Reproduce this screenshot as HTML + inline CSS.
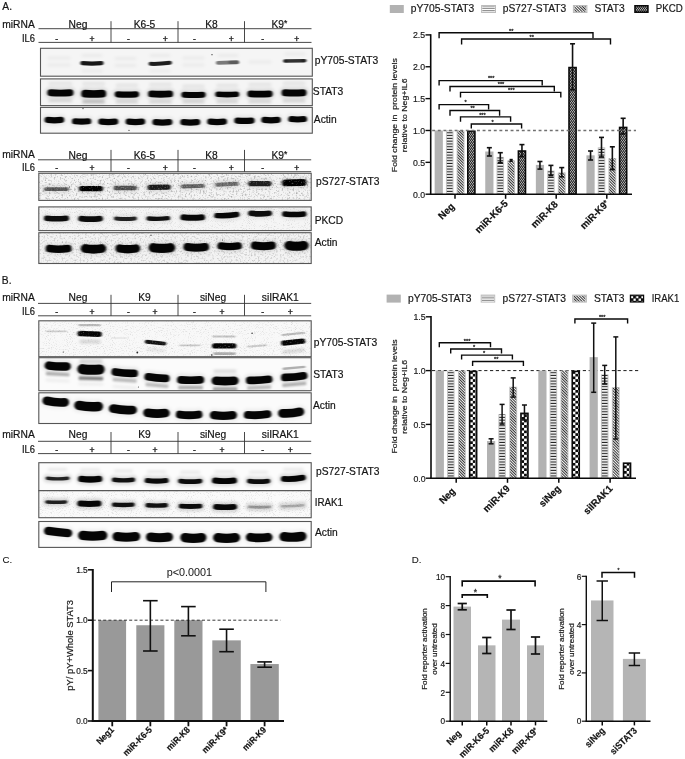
<!DOCTYPE html>
<html lang="en"><head><meta charset="utf-8"><title>Figure</title>
<style>html,body{margin:0;padding:0;background:#fff}svg{display:block}text{font-family:"Liberation Sans", sans-serif}</style></head><body>
<svg width="685" height="759" viewBox="0 0 685 759">
<defs>
<filter id="b1" filterUnits="userSpaceOnUse" x="0" y="0" width="685" height="759"><feGaussianBlur stdDeviation="0.9 0.65"/></filter>
<filter id="b3" filterUnits="userSpaceOnUse" x="0" y="0" width="685" height="759"><feGaussianBlur stdDeviation="1.2 1.0"/></filter>
<filter id="b2" filterUnits="userSpaceOnUse" x="0" y="0" width="685" height="759"><feGaussianBlur stdDeviation="1.8 1.5"/></filter>
<filter id="wn1" x="0" y="0" width="100%" height="100%"><feTurbulence type="fractalNoise" baseFrequency="0.8" numOctaves="2" seed="11"/><feColorMatrix type="matrix" values="0 0 0 0 1  0 0 0 0 1  0 0 0 0 1  1.0 0 0 0 -0.56"/></filter>
<filter id="wn2" x="0" y="0" width="100%" height="100%"><feTurbulence type="fractalNoise" baseFrequency="0.8" numOctaves="2" seed="13"/><feColorMatrix type="matrix" values="0 0 0 0 1  0 0 0 0 1  0 0 0 0 1  0.9 0 0 0 -0.5"/></filter>
<filter id="nz3" x="0" y="0" width="100%" height="100%"><feTurbulence type="fractalNoise" baseFrequency="0.95" numOctaves="2" seed="5"/><feColorMatrix type="matrix" values="0 0 0 0 0  0 0 0 0 0  0 0 0 0 0  0.4 0 0 0 -0.22"/></filter>
<filter id="nz" x="0" y="0" width="100%" height="100%"><feTurbulence type="fractalNoise" baseFrequency="0.55" numOctaves="3" seed="3"/><feColorMatrix type="matrix" values="0 0 0 0 0  0 0 0 0 0  0 0 0 0 0  0.75 0 0 0 -0.37"/></filter>
<filter id="nz2" x="0" y="0" width="100%" height="100%"><feTurbulence type="fractalNoise" baseFrequency="0.55" numOctaves="3" seed="8"/><feColorMatrix type="matrix" values="0 0 0 0 0  0 0 0 0 0  0 0 0 0 0  0.5 0 0 0 -0.24"/></filter>
<pattern id="hz" y="0.3" width="9" height="2.79" patternUnits="userSpaceOnUse"><rect width="9" height="2.79" fill="#fff"/><rect y="0.75" width="9" height="1.15" fill="#222"/></pattern>
<pattern id="dg" width="4" height="1.97" patternUnits="userSpaceOnUse" patternTransform="rotate(45)"><rect width="4" height="1.97" fill="#f4f4f4"/><rect width="4" height="0.95" fill="#2c2c2c"/></pattern>
<pattern id="xh" x="0" y="0.2" width="2" height="3" patternUnits="userSpaceOnUse"><rect width="2" height="3" fill="#121212"/><rect x="0" y="0.2" width="1" height="1.1" fill="#f4f4f4"/><rect x="1" y="1.7" width="1" height="1.1" fill="#f4f4f4"/></pattern>
<pattern id="ck" x="470.1" y="371.1" width="5.4" height="5.4" patternUnits="userSpaceOnUse"><rect width="5.4" height="5.4" fill="#0a0a0a"/><rect x="2.7" y="0" width="2.7" height="2.7" fill="#fff"/><rect x="0" y="2.7" width="2.7" height="2.7" fill="#fff"/></pattern>
<pattern id="ckl" x="630.5" y="295.6" width="5.2" height="5.2" patternUnits="userSpaceOnUse"><rect width="5.2" height="5.2" fill="#0a0a0a"/><rect x="0.4" y="0.4" width="2.3" height="2.3" fill="#fff"/><rect x="3" y="3" width="2.3" height="2.3" fill="#fff"/></pattern>
<clipPath id="c1"><rect x="40.5" y="48.3" width="271.8" height="27.900000000000006"/></clipPath>
<clipPath id="c2"><rect x="40.5" y="78.9" width="271.8" height="26.69999999999999"/></clipPath>
<clipPath id="c3"><rect x="40.5" y="107.4" width="271.8" height="25.799999999999983"/></clipPath>
<clipPath id="c4"><rect x="38.8" y="173.3" width="272.4" height="27.099999999999994"/></clipPath>
<clipPath id="c5"><rect x="38.8" y="206.9" width="272.4" height="23.69999999999999"/></clipPath>
<clipPath id="c6"><rect x="38.8" y="232.7" width="272.4" height="30.80000000000001"/></clipPath>
<clipPath id="c7"><rect x="38.8" y="320.8" width="272.4" height="35.89999999999998"/></clipPath>
<clipPath id="c8"><rect x="38.8" y="357.7" width="272.4" height="33.0"/></clipPath>
<clipPath id="c9"><rect x="38.8" y="392.8" width="272.4" height="30.69999999999999"/></clipPath>
<clipPath id="c10"><rect x="38.8" y="462.7" width="272.4" height="28.0"/></clipPath>
<clipPath id="c11"><rect x="38.8" y="490.7" width="272.4" height="27.000000000000057"/></clipPath>
<clipPath id="c12"><rect x="38.8" y="521.5" width="272.4" height="25.899999999999977"/></clipPath>
</defs>
<rect width="685" height="759" fill="#fff"/>
<text x="2.30" y="10.00" font-size="10.25" text-anchor="start" font-weight="normal" fill="#151515" stroke="#151515" stroke-width="0.2" >A.</text>
<text x="2.30" y="27.70" font-size="10.25" text-anchor="start" font-weight="normal" fill="#151515" stroke="#151515" stroke-width="0.2" >miRNA</text>
<text x="22.00" y="41.80" font-size="10.25" text-anchor="start" font-weight="normal" fill="#151515" stroke="#151515" stroke-width="0.2" textLength="13" lengthAdjust="spacingAndGlyphs">IL6</text>
<line x1="38.50" y1="28.70" x2="311.50" y2="28.70" stroke="#333" stroke-width="0.9" />
<line x1="38.50" y1="42.40" x2="311.50" y2="42.40" stroke="#333" stroke-width="0.9" />
<line x1="111.00" y1="21.20" x2="111.00" y2="42.40" stroke="#333" stroke-width="0.9" />
<line x1="178.00" y1="21.20" x2="178.00" y2="42.40" stroke="#333" stroke-width="0.9" />
<line x1="244.50" y1="21.20" x2="244.50" y2="42.40" stroke="#333" stroke-width="0.9" />
<text x="78.00" y="27.70" font-size="10.25" text-anchor="middle" font-weight="normal" fill="#151515" stroke="#151515" stroke-width="0.2" >Neg</text>
<text x="144.50" y="27.70" font-size="10.25" text-anchor="middle" font-weight="normal" fill="#151515" stroke="#151515" stroke-width="0.2" >K6-5</text>
<text x="211.40" y="27.70" font-size="10.25" text-anchor="middle" font-weight="normal" fill="#151515" stroke="#151515" stroke-width="0.2" >K8</text>
<text x="279.40" y="27.70" font-size="10.25" text-anchor="middle" font-weight="normal" fill="#151515" stroke="#151515" stroke-width="0.2" >K9<tspan font-size="8.5" dy="-1.3">*</tspan></text>
<text x="56.60" y="42.00" font-size="8.6" text-anchor="middle" font-weight="normal" fill="#151515" stroke="#151515" stroke-width="0.35" >-</text>
<text x="92.00" y="42.00" font-size="8.6" text-anchor="middle" font-weight="normal" fill="#151515" stroke="#151515" stroke-width="0.35" >+</text>
<text x="128.50" y="42.00" font-size="8.6" text-anchor="middle" font-weight="normal" fill="#151515" stroke="#151515" stroke-width="0.35" >-</text>
<text x="165.30" y="42.00" font-size="8.6" text-anchor="middle" font-weight="normal" fill="#151515" stroke="#151515" stroke-width="0.35" >+</text>
<text x="194.50" y="42.00" font-size="8.6" text-anchor="middle" font-weight="normal" fill="#151515" stroke="#151515" stroke-width="0.35" >-</text>
<text x="231.30" y="42.00" font-size="8.6" text-anchor="middle" font-weight="normal" fill="#151515" stroke="#151515" stroke-width="0.35" >+</text>
<text x="262.60" y="42.00" font-size="8.6" text-anchor="middle" font-weight="normal" fill="#151515" stroke="#151515" stroke-width="0.35" >-</text>
<text x="296.70" y="42.00" font-size="8.6" text-anchor="middle" font-weight="normal" fill="#151515" stroke="#151515" stroke-width="0.35" >+</text>
<g clip-path="url(#c1)">
<rect x="40.50" y="48.30" width="271.80" height="27.90" fill="#f5f5f5" stroke="none" stroke-width="1" />
<g filter="url(#b2)" fill="none" stroke-linecap="round"><path d="M48.9 58.00Q59.0 58.00 69.1 58.00" stroke="#050505" stroke-width="3.0" opacity="0.045"/><path d="M48.9 65.00Q59.0 65.00 69.1 65.00" stroke="#050505" stroke-width="3.0" opacity="0.045"/><path d="M82.9 55.50Q92.0 55.50 101.1 55.50" stroke="#050505" stroke-width="3.0" opacity="0.045"/><path d="M82.9 71.00Q92.0 71.00 101.1 71.00" stroke="#050505" stroke-width="3.0" opacity="0.045"/><path d="M115.9 58.50Q125.5 58.50 135.1 58.50" stroke="#050505" stroke-width="3.0" opacity="0.045"/><path d="M115.9 65.50Q125.5 65.50 135.1 65.50" stroke="#050505" stroke-width="3.0" opacity="0.045"/><path d="M150.9 55.50Q160.0 55.50 169.1 55.50" stroke="#050505" stroke-width="3.0" opacity="0.045"/><path d="M150.9 71.00Q160.0 71.00 169.1 71.00" stroke="#050505" stroke-width="3.0" opacity="0.045"/><path d="M183.9 58.00Q193.5 58.00 203.1 58.00" stroke="#050505" stroke-width="3.0" opacity="0.045"/><path d="M183.9 65.00Q193.5 65.00 203.1 65.00" stroke="#050505" stroke-width="3.0" opacity="0.045"/><path d="M218.9 55.50Q228.0 55.50 237.1 55.50" stroke="#050505" stroke-width="3.0" opacity="0.045"/><path d="M249.9 62.00Q260.0 62.00 270.1 62.00" stroke="#050505" stroke-width="3.0" opacity="0.045"/><path d="M285.9 54.00Q295.0 54.00 304.1 54.00" stroke="#050505" stroke-width="3.0" opacity="0.045"/></g>
<g filter="url(#b1)" fill="none" stroke-linecap="round"><path d="M82.4 63.10Q92.0 64.00 101.5 63.10" stroke="#050505" stroke-width="4.2" opacity="0.9"/><path d="M150.6 63.35Q160.2 64.10 169.9 63.35" stroke="#050505" stroke-width="4.0" opacity="0.88" transform="rotate(-3 160.2 63.6)"/><path d="M217.8 62.60Q227.6 62.60 237.3 62.60" stroke="#050505" stroke-width="3.8" opacity="0.5" transform="rotate(-2 227.6 62.6)"/><path d="M230.1 62.30Q233.8 62.30 237.5 62.30" stroke="#050505" stroke-width="3.4" opacity="0.25"/><path d="M284.9 60.80Q294.9 60.80 304.8 60.80" stroke="#050505" stroke-width="3.5" opacity="0.8" transform="rotate(-1 294.9 60.8)"/><path d="M285.0 61.00Q285.5 61.00 286.0 61.00" stroke="#050505" stroke-width="3.2" opacity="0.3"/><path d="M303.0 60.60Q303.8 60.60 304.5 60.60" stroke="#050505" stroke-width="3.2" opacity="0.3"/></g>
<circle cx="212" cy="54.7" r="0.6" fill="#111" opacity="0.9"/>
</g>
<rect x="40.50" y="48.30" width="271.80" height="27.90" fill="none" stroke="#555" stroke-width="1.1" />
<g clip-path="url(#c2)">
<rect x="40.50" y="78.90" width="271.80" height="26.70" fill="#f5f5f5" stroke="none" stroke-width="1" />
<g filter="url(#b2)" fill="none" stroke-linecap="round"><path d="M49.7 100.80Q60.4 100.80 71.1 100.80" stroke="#050505" stroke-width="2.6" opacity="0.16"/><path d="M49.9 83.40Q60.4 83.40 70.9 83.40" stroke="#050505" stroke-width="3.0" opacity="0.08"/><path d="M50.8 92.80Q60.4 93.40 70.0 92.80" stroke="#000" stroke-width="11.9" opacity="0.1"/><path d="M83.5 102.20Q93.7 102.20 103.9 102.20" stroke="#050505" stroke-width="2.6" opacity="0.16"/><path d="M83.7 83.80Q93.7 83.80 103.7 83.80" stroke="#050505" stroke-width="3.0" opacity="0.08"/><path d="M85.1 93.70Q93.7 94.30 102.3 93.70" stroke="#000" stroke-width="12.7" opacity="0.1"/><path d="M117.0 101.90Q126.9 101.90 136.8 101.90" stroke="#050505" stroke-width="2.6" opacity="0.16"/><path d="M117.2 85.30Q126.9 85.30 136.6 85.30" stroke="#050505" stroke-width="3.0" opacity="0.08"/><path d="M117.8 94.30Q126.9 94.90 136.0 94.30" stroke="#000" stroke-width="11.2" opacity="0.1"/><path d="M150.5 101.90Q160.6 101.90 170.7 101.90" stroke="#050505" stroke-width="2.6" opacity="0.16"/><path d="M150.7 84.50Q160.6 84.50 170.5 84.50" stroke="#050505" stroke-width="3.0" opacity="0.08"/><path d="M151.6 93.90Q160.6 94.50 169.6 93.90" stroke="#000" stroke-width="11.9" opacity="0.1"/><path d="M183.7 101.90Q193.5 101.90 203.3 101.90" stroke="#050505" stroke-width="2.6" opacity="0.16"/><path d="M183.9 86.30Q193.5 86.30 203.1 86.30" stroke="#050505" stroke-width="3.0" opacity="0.08"/><path d="M184.4 94.80Q193.5 95.40 202.6 94.80" stroke="#000" stroke-width="11.0" opacity="0.1"/><path d="M217.6 101.60Q227.2 101.60 236.9 101.60" stroke="#050505" stroke-width="2.6" opacity="0.16"/><path d="M217.8 85.60Q227.2 85.60 236.7 85.60" stroke="#050505" stroke-width="3.0" opacity="0.08"/><path d="M218.1 94.30Q227.2 94.90 236.4 94.30" stroke="#000" stroke-width="10.6" opacity="0.1"/><path d="M249.7 101.80Q260.0 101.80 270.3 101.80" stroke="#050505" stroke-width="2.6" opacity="0.16"/><path d="M249.9 84.60Q260.0 84.60 270.1 84.60" stroke="#050505" stroke-width="3.0" opacity="0.08"/><path d="M250.7 93.90Q260.0 94.50 269.3 93.90" stroke="#000" stroke-width="11.7" opacity="0.1"/><path d="M283.9 100.90Q294.0 100.90 304.2 100.90" stroke="#050505" stroke-width="2.6" opacity="0.16"/><path d="M284.1 83.30Q294.0 83.30 304.0 83.30" stroke="#050505" stroke-width="3.0" opacity="0.08"/><path d="M285.1 92.80Q294.0 93.40 303.0 92.80" stroke="#000" stroke-width="12.0" opacity="0.1"/><path d="M83.7 101.30Q93.5 101.30 103.3 101.30" stroke="#050505" stroke-width="2.6" opacity="0.18"/></g>
<g filter="url(#b1)" fill="none" stroke-linecap="round"><path d="M50.8 92.80Q60.4 93.40 70.0 92.80" stroke="#050505" stroke-width="6.9" opacity="0.98"/><path d="M85.1 93.70Q93.7 94.30 102.3 93.70" stroke="#050505" stroke-width="7.7" opacity="0.98"/><path d="M117.8 94.30Q126.9 94.90 136.0 94.30" stroke="#050505" stroke-width="6.2" opacity="0.98"/><path d="M151.6 93.90Q160.6 94.50 169.6 93.90" stroke="#050505" stroke-width="6.9" opacity="0.98"/><path d="M184.4 94.80Q193.5 95.40 202.6 94.80" stroke="#050505" stroke-width="6.0" opacity="0.98"/><path d="M218.1 94.30Q227.2 94.90 236.4 94.30" stroke="#050505" stroke-width="5.6" opacity="0.98"/><path d="M250.7 93.90Q260.0 94.50 269.3 93.90" stroke="#050505" stroke-width="6.7" opacity="0.98"/><path d="M285.1 92.80Q294.0 93.40 303.0 92.80" stroke="#050505" stroke-width="7.0" opacity="0.98"/></g>

</g>
<rect x="40.50" y="78.90" width="271.80" height="26.70" fill="none" stroke="#555" stroke-width="1.1" />
<g clip-path="url(#c3)">
<rect x="40.50" y="107.40" width="271.80" height="25.80" fill="#f6f6f6" stroke="none" stroke-width="1" />
<g filter="url(#b2)" fill="none" stroke-linecap="round"><path d="M47.7 119.95Q54.4 120.70 61.1 119.95" stroke="#000" stroke-width="11.2" opacity="0.06"/><path d="M75.1 121.25Q81.7 122.00 88.2 121.25" stroke="#000" stroke-width="11.2" opacity="0.06"/><path d="M101.4 121.65Q108.3 122.40 115.2 121.65" stroke="#000" stroke-width="11.2" opacity="0.06"/><path d="M128.7 121.65Q135.4 122.40 142.1 121.65" stroke="#000" stroke-width="11.2" opacity="0.06"/><path d="M155.5 122.15Q162.4 122.90 169.3 122.15" stroke="#000" stroke-width="11.2" opacity="0.06"/><path d="M183.4 122.15Q190.3 122.90 197.2 122.15" stroke="#000" stroke-width="11.2" opacity="0.06"/><path d="M210.3 121.65Q217.1 122.40 223.9 121.65" stroke="#000" stroke-width="11.2" opacity="0.06"/><path d="M237.4 120.55Q244.4 121.30 251.5 120.55" stroke="#000" stroke-width="11.2" opacity="0.06"/><path d="M264.4 119.95Q271.0 120.70 277.7 119.95" stroke="#000" stroke-width="11.2" opacity="0.06"/><path d="M291.2 119.05Q297.6 119.80 304.1 119.05" stroke="#000" stroke-width="11.0" opacity="0.06"/></g>
<g filter="url(#b1)" fill="none" stroke-linecap="round"><path d="M47.7 119.95Q54.4 120.70 61.1 119.95" stroke="#050505" stroke-width="6.2" opacity="0.98"/><path d="M75.1 121.25Q81.7 122.00 88.2 121.25" stroke="#050505" stroke-width="6.2" opacity="0.98"/><path d="M101.4 121.65Q108.3 122.40 115.2 121.65" stroke="#050505" stroke-width="6.2" opacity="0.98"/><path d="M128.7 121.65Q135.4 122.40 142.1 121.65" stroke="#050505" stroke-width="6.2" opacity="0.98"/><path d="M155.5 122.15Q162.4 122.90 169.3 122.15" stroke="#050505" stroke-width="6.2" opacity="0.98"/><path d="M183.4 122.15Q190.3 122.90 197.2 122.15" stroke="#050505" stroke-width="6.2" opacity="0.98"/><path d="M210.3 121.65Q217.1 122.40 223.9 121.65" stroke="#050505" stroke-width="6.2" opacity="0.98"/><path d="M237.4 120.55Q244.4 121.30 251.5 120.55" stroke="#050505" stroke-width="6.2" opacity="0.98"/><path d="M264.4 119.95Q271.0 120.70 277.7 119.95" stroke="#050505" stroke-width="6.2" opacity="0.98"/><path d="M291.2 119.05Q297.6 119.80 304.1 119.05" stroke="#050505" stroke-width="6.0" opacity="0.98"/></g>
<circle cx="83" cy="108.6" r="0.6" fill="#111" opacity="0.9"/><circle cx="129" cy="130.3" r="0.6" fill="#111" opacity="0.9"/>
</g>
<rect x="40.50" y="107.40" width="271.80" height="25.80" fill="none" stroke="#555" stroke-width="1.1" />
<text x="314.80" y="64.10" font-size="10.25" text-anchor="start" font-weight="normal" fill="#151515" stroke="#151515" stroke-width="0.2" >pY705-STAT3</text>
<text x="312.80" y="95.30" font-size="10.25" text-anchor="start" font-weight="normal" fill="#151515" stroke="#151515" stroke-width="0.2" >STAT3</text>
<text x="313.80" y="123.00" font-size="10.25" text-anchor="start" font-weight="normal" fill="#151515" stroke="#151515" stroke-width="0.2" >Actin</text>
<text x="2.30" y="157.70" font-size="10.25" text-anchor="start" font-weight="normal" fill="#151515" stroke="#151515" stroke-width="0.2" >miRNA</text>
<text x="22.00" y="170.80" font-size="10.25" text-anchor="start" font-weight="normal" fill="#151515" stroke="#151515" stroke-width="0.2" textLength="13" lengthAdjust="spacingAndGlyphs">IL6</text>
<line x1="38.00" y1="159.80" x2="311.20" y2="159.80" stroke="#333" stroke-width="0.9" />
<line x1="38.00" y1="171.70" x2="311.20" y2="171.70" stroke="#333" stroke-width="0.9" />
<line x1="111.00" y1="149.90" x2="111.00" y2="171.70" stroke="#333" stroke-width="0.9" />
<line x1="178.00" y1="149.90" x2="178.00" y2="171.70" stroke="#333" stroke-width="0.9" />
<line x1="244.50" y1="149.90" x2="244.50" y2="171.70" stroke="#333" stroke-width="0.9" />
<text x="78.00" y="158.50" font-size="10.25" text-anchor="middle" font-weight="normal" fill="#151515" stroke="#151515" stroke-width="0.2" >Neg</text>
<text x="144.50" y="158.50" font-size="10.25" text-anchor="middle" font-weight="normal" fill="#151515" stroke="#151515" stroke-width="0.2" >K6-5</text>
<text x="211.40" y="158.50" font-size="10.25" text-anchor="middle" font-weight="normal" fill="#151515" stroke="#151515" stroke-width="0.2" >K8</text>
<text x="279.40" y="158.50" font-size="10.25" text-anchor="middle" font-weight="normal" fill="#151515" stroke="#151515" stroke-width="0.2" >K9<tspan font-size="8.5" dy="-1.3">*</tspan></text>
<text x="56.60" y="171.00" font-size="8.6" text-anchor="middle" font-weight="normal" fill="#151515" stroke="#151515" stroke-width="0.35" >-</text>
<text x="92.00" y="171.00" font-size="8.6" text-anchor="middle" font-weight="normal" fill="#151515" stroke="#151515" stroke-width="0.35" >+</text>
<text x="128.50" y="171.00" font-size="8.6" text-anchor="middle" font-weight="normal" fill="#151515" stroke="#151515" stroke-width="0.35" >-</text>
<text x="165.30" y="171.00" font-size="8.6" text-anchor="middle" font-weight="normal" fill="#151515" stroke="#151515" stroke-width="0.35" >+</text>
<text x="194.50" y="171.00" font-size="8.6" text-anchor="middle" font-weight="normal" fill="#151515" stroke="#151515" stroke-width="0.35" >-</text>
<text x="231.30" y="171.00" font-size="8.6" text-anchor="middle" font-weight="normal" fill="#151515" stroke="#151515" stroke-width="0.35" >+</text>
<text x="262.60" y="171.00" font-size="8.6" text-anchor="middle" font-weight="normal" fill="#151515" stroke="#151515" stroke-width="0.35" >-</text>
<text x="296.70" y="171.00" font-size="8.6" text-anchor="middle" font-weight="normal" fill="#151515" stroke="#151515" stroke-width="0.35" >+</text>
<g clip-path="url(#c4)">
<rect x="38.80" y="173.30" width="272.40" height="27.10" fill="#f4f4f4" stroke="none" stroke-width="1" />
<rect x="38.80" y="173.30" width="272.40" height="27.10" fill="#fff" stroke="none" stroke-width="1" filter="url(#nz)"/>
<g filter="url(#b2)" fill="none" stroke-linecap="round"><path d="M46.0 189.10Q56.5 189.10 67.0 189.10" stroke="#000" stroke-width="8.9" opacity="0.09"/><path d="M81.7 188.60Q91.0 188.60 100.3 188.60" stroke="#000" stroke-width="10.4" opacity="0.09"/><path d="M115.8 188.00Q125.2 188.00 134.7 188.00" stroke="#000" stroke-width="9.4" opacity="0.09"/><path d="M150.2 187.30Q159.1 187.30 168.1 187.30" stroke="#000" stroke-width="10.3" opacity="0.09" transform="rotate(-1 159.1 187.3)"/><path d="M182.8 186.20Q192.8 186.20 202.7 186.20" stroke="#000" stroke-width="8.9" opacity="0.09" transform="rotate(-2 192.8 186.2)"/><path d="M217.2 184.30Q226.9 184.30 236.7 184.30" stroke="#000" stroke-width="8.9" opacity="0.09" transform="rotate(-3 226.9 184.3)"/><path d="M250.8 183.60Q259.8 183.60 268.8 183.60" stroke="#000" stroke-width="10.3" opacity="0.09"/><path d="M285.5 182.70Q294.3 182.70 303.1 182.70" stroke="#000" stroke-width="11.9" opacity="0.09" transform="rotate(-1 294.3 182.7)"/></g>
<g filter="url(#b1)" fill="none" stroke-linecap="round"><path d="M46.0 189.10Q56.5 189.10 67.0 189.10" stroke="#050505" stroke-width="3.9" opacity="0.58"/><path d="M81.7 188.60Q91.0 188.60 100.3 188.60" stroke="#050505" stroke-width="5.4" opacity="1"/><path d="M115.8 188.00Q125.2 188.00 134.7 188.00" stroke="#050505" stroke-width="4.4" opacity="0.63"/><path d="M150.2 187.30Q159.1 187.30 168.1 187.30" stroke="#050505" stroke-width="5.3" opacity="0.88" transform="rotate(-1 159.1 187.3)"/><path d="M182.8 186.20Q192.8 186.20 202.7 186.20" stroke="#050505" stroke-width="3.9" opacity="0.5599999999999999" transform="rotate(-2 192.8 186.2)"/><path d="M217.2 184.30Q226.9 184.30 236.7 184.30" stroke="#050505" stroke-width="3.9" opacity="0.5" transform="rotate(-3 226.9 184.3)"/><path d="M250.8 183.60Q259.8 183.60 268.8 183.60" stroke="#050505" stroke-width="5.3" opacity="0.86"/><path d="M285.5 182.70Q294.3 182.70 303.1 182.70" stroke="#050505" stroke-width="6.9" opacity="1" transform="rotate(-1 294.3 182.7)"/></g>
<rect x="38.80" y="173.30" width="272.40" height="27.10" fill="#fff" stroke="none" stroke-width="1" filter="url(#wn1)"/>
<circle cx="69.5" cy="187" r="0.5" fill="#111" opacity="0.9"/>
</g>
<rect x="38.80" y="173.30" width="272.40" height="27.10" fill="none" stroke="#555" stroke-width="1.1" />
<g clip-path="url(#c5)">
<rect x="38.80" y="206.90" width="272.40" height="23.70" fill="#f5f5f5" stroke="none" stroke-width="1" />
<rect x="38.80" y="206.90" width="272.40" height="23.70" fill="#fff" stroke="none" stroke-width="1" filter="url(#nz3)"/>
<g filter="url(#b2)" fill="none" stroke-linecap="round"><path d="M46.7 218.25Q56.5 219.30 66.3 218.25" stroke="#000" stroke-width="10.4" opacity="0.07"/><path d="M81.0 218.55Q90.6 219.60 100.1 218.55" stroke="#000" stroke-width="10.7" opacity="0.07"/><path d="M116.0 218.45Q125.5 219.50 134.9 218.45" stroke="#000" stroke-width="9.0" opacity="0.07"/><path d="M148.6 218.35Q158.3 219.40 168.0 218.35" stroke="#000" stroke-width="9.4" opacity="0.07" transform="rotate(-1 158.3 218.7)"/><path d="M183.2 217.25Q192.7 218.30 202.2 217.25" stroke="#000" stroke-width="10.8" opacity="0.07"/><path d="M216.9 215.05Q226.9 216.10 236.9 215.05" stroke="#000" stroke-width="10.4" opacity="0.07" transform="rotate(-3 226.9 215.4)"/><path d="M250.9 213.25Q260.1 214.30 269.2 213.25" stroke="#000" stroke-width="10.7" opacity="0.07"/><path d="M284.8 213.95Q294.3 215.00 303.8 213.95" stroke="#000" stroke-width="10.4" opacity="0.07"/></g>
<g filter="url(#b1)" fill="none" stroke-linecap="round"><path d="M46.7 218.25Q56.5 219.30 66.3 218.25" stroke="#050505" stroke-width="5.4" opacity="0.95"/><path d="M81.0 218.55Q90.6 219.60 100.1 218.55" stroke="#050505" stroke-width="5.7" opacity="0.95"/><path d="M116.0 218.45Q125.5 219.50 134.9 218.45" stroke="#050505" stroke-width="4.0" opacity="0.85"/><path d="M148.6 218.35Q158.3 219.40 168.0 218.35" stroke="#050505" stroke-width="4.4" opacity="0.93" transform="rotate(-1 158.3 218.7)"/><path d="M183.2 217.25Q192.7 218.30 202.2 217.25" stroke="#050505" stroke-width="5.8" opacity="0.97"/><path d="M216.9 215.05Q226.9 216.10 236.9 215.05" stroke="#050505" stroke-width="5.4" opacity="0.97" transform="rotate(-3 226.9 215.4)"/><path d="M250.9 213.25Q260.1 214.30 269.2 213.25" stroke="#050505" stroke-width="5.7" opacity="0.95"/><path d="M284.8 213.95Q294.3 215.00 303.8 213.95" stroke="#050505" stroke-width="5.4" opacity="0.97"/></g>

</g>
<rect x="38.80" y="206.90" width="272.40" height="23.70" fill="none" stroke="#555" stroke-width="1.1" />
<g clip-path="url(#c6)">
<rect x="38.80" y="232.70" width="272.40" height="30.80" fill="#f3f3f3" stroke="none" stroke-width="1" />
<rect x="38.80" y="232.70" width="272.40" height="30.80" fill="#fff" stroke="none" stroke-width="1" filter="url(#nz2)"/>
<g filter="url(#b2)" fill="none" stroke-linecap="round"><path d="M49.4 248.50Q58.6 250.00 67.9 248.50" stroke="#000" stroke-width="12.4" opacity="0.08"/><path d="M85.2 248.50Q93.5 250.00 101.8 248.50" stroke="#000" stroke-width="13.8" opacity="0.08"/><path d="M119.6 248.50Q127.8 250.00 136.0 248.50" stroke="#000" stroke-width="13.3" opacity="0.08"/><path d="M153.2 247.70Q161.9 249.20 170.6 247.70" stroke="#000" stroke-width="14.2" opacity="0.08"/><path d="M187.4 247.00Q196.2 248.50 205.1 247.00" stroke="#000" stroke-width="12.9" opacity="0.08"/><path d="M221.1 245.90Q229.7 247.40 238.2 245.90" stroke="#000" stroke-width="12.4" opacity="0.08"/><path d="M254.9 245.50Q263.4 247.00 271.9 245.50" stroke="#000" stroke-width="12.9" opacity="0.08"/><path d="M288.9 245.50Q296.4 247.00 304.0 245.50" stroke="#000" stroke-width="14.2" opacity="0.08"/></g>
<g filter="url(#b1)" fill="none" stroke-linecap="round"><path d="M49.4 248.50Q58.6 250.00 67.9 248.50" stroke="#050505" stroke-width="7.4" opacity="0.98"/><path d="M85.2 248.50Q93.5 250.00 101.8 248.50" stroke="#050505" stroke-width="8.8" opacity="0.98"/><path d="M119.6 248.50Q127.8 250.00 136.0 248.50" stroke="#050505" stroke-width="8.3" opacity="0.98"/><path d="M153.2 247.70Q161.9 249.20 170.6 247.70" stroke="#050505" stroke-width="9.2" opacity="0.98"/><path d="M187.4 247.00Q196.2 248.50 205.1 247.00" stroke="#050505" stroke-width="7.9" opacity="0.98"/><path d="M221.1 245.90Q229.7 247.40 238.2 245.90" stroke="#050505" stroke-width="7.4" opacity="0.98"/><path d="M254.9 245.50Q263.4 247.00 271.9 245.50" stroke="#050505" stroke-width="7.9" opacity="0.98"/><path d="M288.9 245.50Q296.4 247.00 304.0 245.50" stroke="#050505" stroke-width="9.2" opacity="0.98"/></g>
<circle cx="151" cy="235.3" r="0.6" fill="#111" opacity="0.9"/><circle cx="222.5" cy="240" r="0.5" fill="#111" opacity="0.9"/>
</g>
<rect x="38.80" y="232.70" width="272.40" height="30.80" fill="none" stroke="#555" stroke-width="1.1" />
<text x="316.00" y="185.30" font-size="10.25" text-anchor="start" font-weight="normal" fill="#151515" stroke="#151515" stroke-width="0.2" >pS727-STAT3</text>
<text x="314.70" y="224.10" font-size="10.25" text-anchor="start" font-weight="normal" fill="#151515" stroke="#151515" stroke-width="0.2" >PKCD</text>
<text x="314.70" y="245.80" font-size="10.25" text-anchor="start" font-weight="normal" fill="#151515" stroke="#151515" stroke-width="0.2" >Actin</text>
<text x="1.80" y="283.70" font-size="10.25" text-anchor="start" font-weight="normal" fill="#151515" stroke="#151515" stroke-width="0.2" >B.</text>
<text x="2.30" y="300.70" font-size="10.25" text-anchor="start" font-weight="normal" fill="#151515" stroke="#151515" stroke-width="0.2" >miRNA</text>
<text x="22.00" y="315.30" font-size="10.25" text-anchor="start" font-weight="normal" fill="#151515" stroke="#151515" stroke-width="0.2" textLength="13" lengthAdjust="spacingAndGlyphs">IL6</text>
<line x1="38.00" y1="303.40" x2="311.20" y2="303.40" stroke="#333" stroke-width="0.9" />
<line x1="38.00" y1="315.80" x2="311.20" y2="315.80" stroke="#333" stroke-width="0.9" />
<line x1="111.00" y1="294.80" x2="111.00" y2="315.80" stroke="#333" stroke-width="0.9" />
<line x1="178.00" y1="294.80" x2="178.00" y2="315.80" stroke="#333" stroke-width="0.9" />
<line x1="244.50" y1="294.80" x2="244.50" y2="315.80" stroke="#333" stroke-width="0.9" />
<text x="78.00" y="300.70" font-size="10.25" text-anchor="middle" font-weight="normal" fill="#151515" stroke="#151515" stroke-width="0.2" >Neg</text>
<text x="144.50" y="300.70" font-size="10.25" text-anchor="middle" font-weight="normal" fill="#151515" stroke="#151515" stroke-width="0.2" >K9</text>
<text x="213.00" y="300.70" font-size="10.25" text-anchor="middle" font-weight="normal" fill="#151515" stroke="#151515" stroke-width="0.2" >siNeg</text>
<text x="280.30" y="300.70" font-size="10.25" text-anchor="middle" font-weight="normal" fill="#151515" stroke="#151515" stroke-width="0.2" >siIRAK1</text>
<text x="56.60" y="314.70" font-size="8.6" text-anchor="middle" font-weight="normal" fill="#151515" stroke="#151515" stroke-width="0.35" >-</text>
<text x="92.00" y="314.70" font-size="8.6" text-anchor="middle" font-weight="normal" fill="#151515" stroke="#151515" stroke-width="0.35" >+</text>
<text x="128.50" y="314.70" font-size="8.6" text-anchor="middle" font-weight="normal" fill="#151515" stroke="#151515" stroke-width="0.35" >-</text>
<text x="154.90" y="314.70" font-size="8.6" text-anchor="middle" font-weight="normal" fill="#151515" stroke="#151515" stroke-width="0.35" >+</text>
<text x="194.50" y="314.70" font-size="8.6" text-anchor="middle" font-weight="normal" fill="#151515" stroke="#151515" stroke-width="0.35" >-</text>
<text x="222.00" y="314.70" font-size="8.6" text-anchor="middle" font-weight="normal" fill="#151515" stroke="#151515" stroke-width="0.35" >+</text>
<text x="262.60" y="314.70" font-size="8.6" text-anchor="middle" font-weight="normal" fill="#151515" stroke="#151515" stroke-width="0.35" >-</text>
<text x="290.20" y="314.70" font-size="8.6" text-anchor="middle" font-weight="normal" fill="#151515" stroke="#151515" stroke-width="0.35" >+</text>
<g clip-path="url(#c7)">
<rect x="38.80" y="320.80" width="272.40" height="35.90" fill="#f8f8f8" stroke="none" stroke-width="1" />
<rect x="38.80" y="320.80" width="272.40" height="35.90" fill="#fff" stroke="none" stroke-width="1" filter="url(#nz3)"/>
<g filter="url(#b2)" fill="none" stroke-linecap="round"><path d="M80.7 341.60Q90.0 341.60 99.3 341.60" stroke="#050505" stroke-width="2.6" opacity="0.2"/><path d="M147.4 350.20Q156.0 350.20 164.6 350.20" stroke="#050505" stroke-width="2.0" opacity="0.12" transform="rotate(6 156.0 350.2)"/><path d="M283.6 351.00Q293.5 351.00 303.4 351.00" stroke="#050505" stroke-width="2.4" opacity="0.2" transform="rotate(-6 293.5 351.0)"/></g>
<g filter="url(#b1)" fill="none" stroke-linecap="round"><path d="M46.6 331.30Q56.2 331.30 65.9 331.30" stroke="#050505" stroke-width="1.8" opacity="0.18"/><path d="M79.5 325.10Q89.5 325.10 99.5 325.10" stroke="#050505" stroke-width="2.2" opacity="0.25"/><path d="M80.2 333.90Q89.7 333.90 99.1 333.90" stroke="#050505" stroke-width="5.6" opacity="0.98" transform="rotate(2 89.7 333.9)"/><path d="M112.2 338.00Q119.5 338.00 126.8 338.00" stroke="#050505" stroke-width="1.6" opacity="0.08"/><path d="M146.7 342.70Q155.6 342.70 164.5 342.70" stroke="#050505" stroke-width="3.9" opacity="0.92" transform="rotate(6 155.6 342.7)"/><path d="M180.1 345.30Q189.8 345.30 199.4 345.30" stroke="#050505" stroke-width="1.8" opacity="0.2"/><path d="M213.5 336.50Q224.0 336.50 234.5 336.50" stroke="#050505" stroke-width="2.2" opacity="0.22"/><path d="M214.6 345.90Q224.2 345.90 233.8 345.90" stroke="#050505" stroke-width="5.2" opacity="0.98"/><path d="M214.7 353.60Q224.5 353.60 234.3 353.60" stroke="#050505" stroke-width="2.6" opacity="0.3"/><path d="M247.9 345.90Q257.0 345.90 266.1 345.90" stroke="#050505" stroke-width="1.8" opacity="0.2" transform="rotate(-4 257.0 345.9)"/><path d="M282.5 333.90Q293.0 333.90 303.5 333.90" stroke="#050505" stroke-width="2.2" opacity="0.25" transform="rotate(-6 293.0 333.9)"/><path d="M283.6 342.20Q293.2 342.20 302.8 342.20" stroke="#050505" stroke-width="5.2" opacity="0.98" transform="rotate(-6 293.2 342.2)"/></g>
<rect x="38.80" y="320.80" width="272.40" height="35.90" fill="#fff" stroke="none" stroke-width="1" filter="url(#wn2)"/>
<circle cx="63.3" cy="352" r="0.6" fill="#111" opacity="0.9"/><circle cx="137.3" cy="352.5" r="0.9" fill="#111" opacity="0.9"/><circle cx="252.1" cy="333.2" r="0.7" fill="#111" opacity="0.9"/><circle cx="211.8" cy="355" r="0.8" fill="#111" opacity="0.9"/>
</g>
<rect x="38.80" y="320.80" width="272.40" height="35.90" fill="none" stroke="#555" stroke-width="1.1" />
<g clip-path="url(#c8)">
<rect x="38.80" y="357.70" width="272.40" height="33.00" fill="#fbfbfb" stroke="none" stroke-width="1" />
<g filter="url(#b2)" fill="none" stroke-linecap="round"><path d="M46.8 380.60Q57.7 380.60 68.6 380.60" stroke="#050505" stroke-width="2.4" opacity="0.07" transform="rotate(3 57.7 380.6)"/><path d="M48.8 366.00Q57.7 366.90 66.6 366.00" stroke="#000" stroke-width="13.4" opacity="0.08" transform="rotate(3 57.7 366.3)"/><path d="M79.6 383.90Q91.0 383.90 102.3 383.90" stroke="#050505" stroke-width="2.4" opacity="0.07" transform="rotate(1 91.0 383.9)"/><path d="M82.4 369.30Q91.0 370.20 99.5 369.30" stroke="#000" stroke-width="15.1" opacity="0.08" transform="rotate(1 91.0 369.6)"/><path d="M113.6 387.20Q124.7 387.20 135.8 387.20" stroke="#050505" stroke-width="2.4" opacity="0.07" transform="rotate(4 124.7 387.2)"/><path d="M115.3 372.60Q124.7 373.50 134.1 372.60" stroke="#000" stroke-width="12.7" opacity="0.08" transform="rotate(4 124.7 372.9)"/><path d="M146.5 392.20Q157.0 392.20 167.5 392.20" stroke="#050505" stroke-width="2.4" opacity="0.07" transform="rotate(5 157.0 392.2)"/><path d="M148.2 377.60Q157.0 378.50 165.8 377.60" stroke="#000" stroke-width="12.7" opacity="0.08" transform="rotate(5 157.0 377.9)"/><path d="M179.2 394.40Q190.6 394.40 202.0 394.40" stroke="#050505" stroke-width="2.4" opacity="0.07"/><path d="M180.9 379.80Q190.6 380.70 200.3 379.80" stroke="#000" stroke-width="12.7" opacity="0.08"/><path d="M213.8 395.30Q225.1 395.30 236.4 395.30" stroke="#050505" stroke-width="2.4" opacity="0.07"/><path d="M215.9 380.70Q225.1 381.60 234.3 380.70" stroke="#000" stroke-width="13.6" opacity="0.08"/><path d="M248.1 394.40Q259.2 394.40 270.3 394.40" stroke="#050505" stroke-width="2.4" opacity="0.07" transform="rotate(-3 259.2 394.4)"/><path d="M249.8 379.80Q259.2 380.70 268.6 379.80" stroke="#000" stroke-width="12.7" opacity="0.08" transform="rotate(-3 259.2 380.1)"/><path d="M283.2 391.20Q294.2 391.20 305.3 391.20" stroke="#050505" stroke-width="2.4" opacity="0.07" transform="rotate(-5 294.2 391.2)"/><path d="M284.9 376.60Q294.2 377.50 303.6 376.60" stroke="#000" stroke-width="12.7" opacity="0.08" transform="rotate(-5 294.2 376.9)"/><path d="M80.7 361.00Q91.0 361.00 101.3 361.00" stroke="#050505" stroke-width="2.6" opacity="0.2"/><path d="M214.6 371.10Q225.0 371.10 235.4 371.10" stroke="#050505" stroke-width="2.4" opacity="0.18"/></g>
<g filter="url(#b3)" fill="none" stroke-linecap="round"><path d="M47.2 374.20Q57.7 374.20 68.2 374.20" stroke="#050505" stroke-width="3.2" opacity="0.32000000000000006" transform="rotate(3 57.7 374.2)"/><path d="M80.0 378.35Q91.0 378.35 101.9 378.35" stroke="#050505" stroke-width="3.2" opacity="0.52" transform="rotate(1 91.0 378.3)"/><path d="M114.0 380.45Q124.7 380.45 135.4 380.45" stroke="#050505" stroke-width="3.2" opacity="0.264" transform="rotate(4 124.7 380.4)"/><path d="M146.9 385.45Q157.0 385.45 167.1 385.45" stroke="#050505" stroke-width="3.2" opacity="0.264" transform="rotate(5 157.0 385.4)"/><path d="M179.6 387.65Q190.6 387.65 201.6 387.65" stroke="#050505" stroke-width="3.2" opacity="0.32000000000000006"/><path d="M214.2 389.00Q225.1 389.00 236.0 389.00" stroke="#050505" stroke-width="3.2" opacity="0.4"/><path d="M248.5 387.65Q259.2 387.65 269.9 387.65" stroke="#050505" stroke-width="3.2" opacity="0.264" transform="rotate(-3 259.2 387.6)"/><path d="M283.6 384.45Q294.2 384.45 304.9 384.45" stroke="#050505" stroke-width="3.2" opacity="0.32000000000000006" transform="rotate(-5 294.2 384.4)"/></g>
<g filter="url(#b1)" fill="none" stroke-linecap="round"><path d="M48.8 366.00Q57.7 366.90 66.6 366.00" stroke="#050505" stroke-width="8.4" opacity="0.98" transform="rotate(3 57.7 366.3)"/><path d="M82.4 369.30Q91.0 370.20 99.5 369.30" stroke="#050505" stroke-width="10.1" opacity="0.98" transform="rotate(1 91.0 369.6)"/><path d="M115.3 372.60Q124.7 373.50 134.1 372.60" stroke="#050505" stroke-width="7.7" opacity="0.98" transform="rotate(4 124.7 372.9)"/><path d="M148.2 377.60Q157.0 378.50 165.8 377.60" stroke="#050505" stroke-width="7.7" opacity="0.98" transform="rotate(5 157.0 377.9)"/><path d="M180.9 379.80Q190.6 380.70 200.3 379.80" stroke="#050505" stroke-width="7.7" opacity="0.98"/><path d="M215.9 380.70Q225.1 381.60 234.3 380.70" stroke="#050505" stroke-width="8.6" opacity="0.98"/><path d="M249.8 379.80Q259.2 380.70 268.6 379.80" stroke="#050505" stroke-width="7.7" opacity="0.98" transform="rotate(-3 259.2 380.1)"/><path d="M284.9 376.60Q294.2 377.50 303.6 376.60" stroke="#050505" stroke-width="7.7" opacity="0.98" transform="rotate(-5 294.2 376.9)"/><path d="M283.6 367.80Q294.0 367.80 304.4 367.80" stroke="#050505" stroke-width="2.4" opacity="0.3" transform="rotate(-5 294.0 367.8)"/></g>
<circle cx="138.4" cy="386.9" r="0.5" fill="#111" opacity="0.9"/>
</g>
<rect x="38.80" y="357.70" width="272.40" height="33.00" fill="none" stroke="#555" stroke-width="1.1" />
<g clip-path="url(#c9)">
<rect x="38.80" y="392.80" width="272.40" height="30.70" fill="#fbfbfb" stroke="none" stroke-width="1" />
<g filter="url(#b2)" fill="none" stroke-linecap="round"><path d="M46.7 401.55Q55.7 402.90 64.7 401.55" stroke="#000" stroke-width="13.6" opacity="0.05" transform="rotate(5 55.7 402.0)"/><path d="M78.9 405.95Q88.6 407.30 98.3 405.95" stroke="#000" stroke-width="14.4" opacity="0.05" transform="rotate(3 88.6 406.4)"/><path d="M113.1 409.25Q122.9 410.60 132.6 409.25" stroke="#000" stroke-width="13.6" opacity="0.05" transform="rotate(4 122.9 409.7)"/><path d="M147.5 412.95Q156.4 414.30 165.4 412.95" stroke="#000" stroke-width="13.6" opacity="0.05" transform="rotate(1 156.4 413.4)"/><path d="M179.8 414.55Q189.2 415.90 198.5 414.55" stroke="#000" stroke-width="12.9" opacity="0.05"/><path d="M214.0 415.15Q223.4 416.50 232.8 415.15" stroke="#000" stroke-width="13.3" opacity="0.05"/><path d="M247.8 414.55Q257.6 415.90 267.5 414.55" stroke="#000" stroke-width="12.9" opacity="0.05" transform="rotate(-2 257.6 415.0)"/><path d="M282.5 412.55Q291.2 413.90 299.9 412.55" stroke="#000" stroke-width="13.8" opacity="0.05" transform="rotate(-5 291.2 413.0)"/></g>
<g filter="url(#b1)" fill="none" stroke-linecap="round"><path d="M46.7 401.55Q55.7 402.90 64.7 401.55" stroke="#050505" stroke-width="8.6" opacity="0.98" transform="rotate(5 55.7 402.0)"/><path d="M78.9 405.95Q88.6 407.30 98.3 405.95" stroke="#050505" stroke-width="9.4" opacity="0.98" transform="rotate(3 88.6 406.4)"/><path d="M113.1 409.25Q122.9 410.60 132.6 409.25" stroke="#050505" stroke-width="8.6" opacity="0.98" transform="rotate(4 122.9 409.7)"/><path d="M147.5 412.95Q156.4 414.30 165.4 412.95" stroke="#050505" stroke-width="8.6" opacity="0.98" transform="rotate(1 156.4 413.4)"/><path d="M179.8 414.55Q189.2 415.90 198.5 414.55" stroke="#050505" stroke-width="7.9" opacity="0.98"/><path d="M214.0 415.15Q223.4 416.50 232.8 415.15" stroke="#050505" stroke-width="8.3" opacity="0.98"/><path d="M247.8 414.55Q257.6 415.90 267.5 414.55" stroke="#050505" stroke-width="7.9" opacity="0.98" transform="rotate(-2 257.6 415.0)"/><path d="M282.5 412.55Q291.2 413.90 299.9 412.55" stroke="#050505" stroke-width="8.8" opacity="0.98" transform="rotate(-5 291.2 413.0)"/></g>

</g>
<rect x="38.80" y="392.80" width="272.40" height="30.70" fill="none" stroke="#555" stroke-width="1.1" />
<text x="313.80" y="346.40" font-size="10.25" text-anchor="start" font-weight="normal" fill="#151515" stroke="#151515" stroke-width="0.2" >pY705-STAT3</text>
<text x="313.20" y="378.40" font-size="10.25" text-anchor="start" font-weight="normal" fill="#151515" stroke="#151515" stroke-width="0.2" >STAT3</text>
<text x="313.00" y="409.00" font-size="10.25" text-anchor="start" font-weight="normal" fill="#151515" stroke="#151515" stroke-width="0.2" >Actin</text>
<text x="2.30" y="437.50" font-size="10.25" text-anchor="start" font-weight="normal" fill="#151515" stroke="#151515" stroke-width="0.2" >miRNA</text>
<text x="22.00" y="452.70" font-size="10.25" text-anchor="start" font-weight="normal" fill="#151515" stroke="#151515" stroke-width="0.2" textLength="13" lengthAdjust="spacingAndGlyphs">IL6</text>
<line x1="38.00" y1="441.30" x2="311.20" y2="441.30" stroke="#333" stroke-width="0.9" />
<line x1="38.00" y1="453.60" x2="311.20" y2="453.60" stroke="#333" stroke-width="0.9" />
<line x1="111.00" y1="432.00" x2="111.00" y2="453.60" stroke="#333" stroke-width="0.9" />
<line x1="178.00" y1="432.00" x2="178.00" y2="453.60" stroke="#333" stroke-width="0.9" />
<line x1="244.50" y1="432.00" x2="244.50" y2="453.60" stroke="#333" stroke-width="0.9" />
<text x="78.00" y="438.30" font-size="10.25" text-anchor="middle" font-weight="normal" fill="#151515" stroke="#151515" stroke-width="0.2" >Neg</text>
<text x="144.50" y="438.30" font-size="10.25" text-anchor="middle" font-weight="normal" fill="#151515" stroke="#151515" stroke-width="0.2" >K9</text>
<text x="213.00" y="438.30" font-size="10.25" text-anchor="middle" font-weight="normal" fill="#151515" stroke="#151515" stroke-width="0.2" >siNeg</text>
<text x="280.30" y="438.30" font-size="10.25" text-anchor="middle" font-weight="normal" fill="#151515" stroke="#151515" stroke-width="0.2" >siIRAK1</text>
<text x="56.60" y="452.90" font-size="8.6" text-anchor="middle" font-weight="normal" fill="#151515" stroke="#151515" stroke-width="0.35" >-</text>
<text x="92.00" y="452.90" font-size="8.6" text-anchor="middle" font-weight="normal" fill="#151515" stroke="#151515" stroke-width="0.35" >+</text>
<text x="128.50" y="452.90" font-size="8.6" text-anchor="middle" font-weight="normal" fill="#151515" stroke="#151515" stroke-width="0.35" >-</text>
<text x="154.90" y="452.90" font-size="8.6" text-anchor="middle" font-weight="normal" fill="#151515" stroke="#151515" stroke-width="0.35" >+</text>
<text x="194.50" y="452.90" font-size="8.6" text-anchor="middle" font-weight="normal" fill="#151515" stroke="#151515" stroke-width="0.35" >-</text>
<text x="222.00" y="452.90" font-size="8.6" text-anchor="middle" font-weight="normal" fill="#151515" stroke="#151515" stroke-width="0.35" >+</text>
<text x="262.60" y="452.90" font-size="8.6" text-anchor="middle" font-weight="normal" fill="#151515" stroke="#151515" stroke-width="0.35" >-</text>
<text x="290.20" y="452.90" font-size="8.6" text-anchor="middle" font-weight="normal" fill="#151515" stroke="#151515" stroke-width="0.35" >+</text>
<g clip-path="url(#c10)">
<rect x="38.80" y="462.70" width="272.40" height="28.00" fill="#fcfcfc" stroke="none" stroke-width="1" />
<g filter="url(#b2)" fill="none" stroke-linecap="round"><path d="M49.2 469.50Q57.6 469.50 66.0 469.50" stroke="#050505" stroke-width="3.0" opacity="0.08"/><path d="M47.4 478.30Q57.6 479.50 67.8 478.30" stroke="#000" stroke-width="8.4" opacity="0.13"/><path d="M81.6 470.10Q90.2 470.10 98.8 470.10" stroke="#050505" stroke-width="3.0" opacity="0.08"/><path d="M81.3 478.90Q90.2 480.10 99.1 478.90" stroke="#000" stroke-width="11.3" opacity="0.13"/><path d="M115.4 471.00Q123.5 471.00 131.6 471.00" stroke="#050505" stroke-width="3.0" opacity="0.08"/><path d="M114.1 479.80Q123.5 481.00 132.9 479.80" stroke="#000" stroke-width="9.4" opacity="0.13"/><path d="M148.2 471.70Q156.7 471.70 165.1 471.70" stroke="#050505" stroke-width="3.0" opacity="0.08"/><path d="M147.3 480.50Q156.7 481.70 166.0 480.50" stroke="#000" stroke-width="10.2" opacity="0.13"/><path d="M181.6 472.30Q190.2 472.30 198.9 472.30" stroke="#050505" stroke-width="3.0" opacity="0.08"/><path d="M180.5 481.10Q190.2 482.30 200.0 481.10" stroke="#000" stroke-width="9.8" opacity="0.13"/><path d="M215.5 471.70Q224.5 471.70 233.5 471.70" stroke="#050505" stroke-width="3.0" opacity="0.08"/><path d="M214.9 480.50Q224.5 481.70 234.1 480.50" stroke="#000" stroke-width="10.8" opacity="0.13"/><path d="M250.5 472.30Q258.6 472.30 266.8 472.30" stroke="#050505" stroke-width="3.0" opacity="0.08"/><path d="M249.4 481.10Q258.6 482.30 267.9 481.10" stroke="#000" stroke-width="9.8" opacity="0.13"/><path d="M284.5 469.50Q293.4 469.50 302.3 469.50" stroke="#050505" stroke-width="3.0" opacity="0.08"/><path d="M283.9 478.30Q293.4 479.50 302.9 478.30" stroke="#000" stroke-width="10.8" opacity="0.13" transform="rotate(-4 293.4 478.7)"/></g>
<g filter="url(#b1)" fill="none" stroke-linecap="round"><path d="M47.4 478.30Q57.6 479.50 67.8 478.30" stroke="#050505" stroke-width="3.4" opacity="0.85"/><path d="M81.3 478.90Q90.2 480.10 99.1 478.90" stroke="#050505" stroke-width="6.3" opacity="0.98"/><path d="M114.1 479.80Q123.5 481.00 132.9 479.80" stroke="#050505" stroke-width="4.4" opacity="0.92"/><path d="M147.3 480.50Q156.7 481.70 166.0 480.50" stroke="#050505" stroke-width="5.2" opacity="0.95"/><path d="M180.5 481.10Q190.2 482.30 200.0 481.10" stroke="#050505" stroke-width="4.8" opacity="0.95"/><path d="M214.9 480.50Q224.5 481.70 234.1 480.50" stroke="#050505" stroke-width="5.8" opacity="0.98"/><path d="M249.4 481.10Q258.6 482.30 267.9 481.10" stroke="#050505" stroke-width="4.8" opacity="0.95"/><path d="M283.9 478.30Q293.4 479.50 302.9 478.30" stroke="#050505" stroke-width="5.8" opacity="0.98" transform="rotate(-4 293.4 478.7)"/></g>

</g>
<rect x="38.80" y="462.70" width="272.40" height="28.00" fill="none" stroke="#555" stroke-width="1.1" />
<g clip-path="url(#c11)">
<rect x="38.80" y="490.70" width="272.40" height="27.00" fill="#fafafa" stroke="none" stroke-width="1" />
<rect x="38.80" y="490.70" width="272.40" height="27.00" fill="#fff" stroke="none" stroke-width="1" filter="url(#nz3)"/>
<g filter="url(#b2)" fill="none" stroke-linecap="round"><path d="M47.0 501.95Q56.3 502.70 65.5 501.95" stroke="#000" stroke-width="8.5" opacity="0.14"/><path d="M80.4 503.55Q89.4 504.30 98.4 503.55" stroke="#000" stroke-width="11.0" opacity="0.14"/><path d="M114.1 504.65Q123.3 505.40 132.5 504.65" stroke="#000" stroke-width="9.3" opacity="0.14"/><path d="M147.6 505.25Q156.7 506.00 165.8 505.25" stroke="#000" stroke-width="9.3" opacity="0.14"/><path d="M181.1 506.15Q190.6 506.90 200.0 506.15" stroke="#000" stroke-width="9.8" opacity="0.14"/><path d="M215.9 506.85Q225.1 507.60 234.2 506.85" stroke="#000" stroke-width="10.6" opacity="0.14"/><path d="M249.5 506.85Q259.4 507.60 269.4 506.85" stroke="#000" stroke-width="7.8" opacity="0.14"/><path d="M282.2 505.75Q292.6 506.50 303.1 505.75" stroke="#000" stroke-width="7.4" opacity="0.14" transform="rotate(-3 292.6 506.0)"/></g>
<g filter="url(#b1)" fill="none" stroke-linecap="round"><path d="M47.0 501.95Q56.3 502.70 65.5 501.95" stroke="#050505" stroke-width="3.5" opacity="0.85"/><path d="M80.4 503.55Q89.4 504.30 98.4 503.55" stroke="#050505" stroke-width="6.0" opacity="0.97"/><path d="M114.1 504.65Q123.3 505.40 132.5 504.65" stroke="#050505" stroke-width="4.3" opacity="0.92"/><path d="M147.6 505.25Q156.7 506.00 165.8 505.25" stroke="#050505" stroke-width="4.3" opacity="0.92"/><path d="M181.1 506.15Q190.6 506.90 200.0 506.15" stroke="#050505" stroke-width="4.8" opacity="0.95"/><path d="M215.9 506.85Q225.1 507.60 234.2 506.85" stroke="#050505" stroke-width="5.6" opacity="0.97"/><path d="M249.5 506.85Q259.4 507.60 269.4 506.85" stroke="#050505" stroke-width="2.8" opacity="0.3"/><path d="M282.2 505.75Q292.6 506.50 303.1 505.75" stroke="#050505" stroke-width="2.4" opacity="0.22" transform="rotate(-3 292.6 506.0)"/></g>

</g>
<rect x="38.80" y="490.70" width="272.40" height="27.00" fill="none" stroke="#555" stroke-width="1.1" />
<g clip-path="url(#c12)">
<rect x="38.80" y="521.50" width="272.40" height="25.90" fill="#fcfcfc" stroke="none" stroke-width="1" />
<g filter="url(#b2)" fill="none" stroke-linecap="round"><path d="M48.1 532.02Q58.2 532.56 68.1 532.02" stroke="#000" stroke-width="13.3" opacity="0.05" transform="rotate(6 58.2 532.2)"/><path d="M82.7 535.42Q92.7 536.86 102.7 535.42" stroke="#000" stroke-width="14.2" opacity="0.05"/><path d="M117.1 536.52Q126.3 537.96 135.6 536.52" stroke="#000" stroke-width="14.2" opacity="0.05"/><path d="M150.6 537.02Q159.5 538.46 168.4 537.02" stroke="#000" stroke-width="14.2" opacity="0.05"/><path d="M184.9 537.62Q193.4 539.06 201.8 537.62" stroke="#000" stroke-width="14.2" opacity="0.05"/><path d="M217.7 537.62Q226.6 539.06 235.5 537.62" stroke="#000" stroke-width="14.2" opacity="0.05"/><path d="M250.3 537.22Q259.2 538.66 268.1 537.22" stroke="#000" stroke-width="13.8" opacity="0.05"/><path d="M284.0 536.52Q292.9 537.96 301.9 536.52" stroke="#000" stroke-width="14.2" opacity="0.05" transform="rotate(-1 292.9 537.0)"/></g>
<g filter="url(#b1)" fill="none" stroke-linecap="round"><path d="M48.1 532.02Q58.2 532.56 68.1 532.02" stroke="#050505" stroke-width="8.3" opacity="0.98" transform="rotate(6 58.2 532.2)"/><path d="M82.7 535.42Q92.7 536.86 102.7 535.42" stroke="#050505" stroke-width="9.2" opacity="0.98"/><path d="M117.1 536.52Q126.3 537.96 135.6 536.52" stroke="#050505" stroke-width="9.2" opacity="0.98"/><path d="M150.6 537.02Q159.5 538.46 168.4 537.02" stroke="#050505" stroke-width="9.2" opacity="0.98"/><path d="M184.9 537.62Q193.4 539.06 201.8 537.62" stroke="#050505" stroke-width="9.2" opacity="0.98"/><path d="M217.7 537.62Q226.6 539.06 235.5 537.62" stroke="#050505" stroke-width="9.2" opacity="0.98"/><path d="M250.3 537.22Q259.2 538.66 268.1 537.22" stroke="#050505" stroke-width="8.8" opacity="0.98"/><path d="M284.0 536.52Q292.9 537.96 301.9 536.52" stroke="#050505" stroke-width="9.2" opacity="0.98" transform="rotate(-1 292.9 537.0)"/></g>

</g>
<rect x="38.80" y="521.50" width="272.40" height="25.90" fill="none" stroke="#555" stroke-width="1.1" />
<text x="316.00" y="475.00" font-size="10.25" text-anchor="start" font-weight="normal" fill="#151515" stroke="#151515" stroke-width="0.2" >pS727-STAT3</text>
<text x="314.70" y="506.30" font-size="10.25" text-anchor="start" font-weight="normal" fill="#151515" stroke="#151515" stroke-width="0.2" textLength="28.4" lengthAdjust="spacingAndGlyphs">IRAK1</text>
<text x="315.00" y="535.60" font-size="10.25" text-anchor="start" font-weight="normal" fill="#151515" stroke="#151515" stroke-width="0.2" >Actin</text>
<rect x="389.80" y="5.00" width="14.00" height="8.00" fill="#b2b2b2" stroke="none" stroke-width="1" />
<text x="410.80" y="12.20" font-size="10.25" text-anchor="start" font-weight="normal" fill="#1a1a1a" stroke="#1a1a1a" stroke-width="0.2" >pY705-STAT3</text>
<rect x="481.60" y="5.50" width="13.90" height="7.00" fill="#fdfdfd" stroke="#bcbcbc" stroke-width="1" />
<line x1="482.30" y1="6.50" x2="494.80" y2="6.50" stroke="#b0b0b0" stroke-width="0.9" />
<line x1="482.30" y1="8.30" x2="494.80" y2="8.30" stroke="#6a6a6a" stroke-width="0.9" />
<line x1="482.30" y1="10.70" x2="494.80" y2="10.70" stroke="#6a6a6a" stroke-width="0.9" />
<text x="502.80" y="12.20" font-size="10.25" text-anchor="start" font-weight="normal" fill="#1a1a1a" stroke="#1a1a1a" stroke-width="0.2" >pS727-STAT3</text>
<rect x="573.40" y="5.50" width="13.50" height="7.00" fill="#d9d9d9" stroke="#bcbcbc" stroke-width="1" />
<rect x="574.50" y="6.20" width="11.30" height="5.60" fill="url(#dg)" stroke="none" stroke-width="1" />
<text x="594.40" y="12.20" font-size="10.25" text-anchor="start" font-weight="normal" fill="#1a1a1a" stroke="#1a1a1a" stroke-width="0.2" >STAT3</text>
<rect x="635.00" y="5.80" width="12.90" height="6.40" fill="url(#xh)" stroke="#0a0a0a" stroke-width="1.6" />
<text x="655.80" y="12.20" font-size="10.25" text-anchor="start" font-weight="normal" fill="#1a1a1a" stroke="#1a1a1a" stroke-width="0.2" textLength="27" lengthAdjust="spacingAndGlyphs">PKCD</text>
<text transform="translate(397.2 115.1) rotate(-90) scale(1.084 1)" font-size="8.1" text-anchor="middle" fill="#1a1a1a" stroke="#1a1a1a" stroke-width="0.2" xml:space="preserve" style="white-space:pre">Fold change in  protein levels</text>
<text transform="translate(407.2 115.3) rotate(-90) scale(1.084 1)" font-size="8.1" text-anchor="middle" fill="#1a1a1a" stroke="#1a1a1a" stroke-width="0.2" xml:space="preserve" style="white-space:pre">relative to Neg+IL6</text>
<rect x="434.65" y="130.48" width="8.20" height="63.72" fill="#b2b2b2" stroke="none" stroke-width="1" />
<rect x="445.95" y="130.48" width="7.50" height="63.72" fill="#c2c2c2" stroke="none" stroke-width="1" />
<rect x="446.90" y="130.78" width="5.60" height="63.42" fill="url(#hz)" stroke="none" stroke-width="1" />
<rect x="456.60" y="130.48" width="7.90" height="63.72" fill="#c2c2c2" stroke="none" stroke-width="1" />
<rect x="457.55" y="130.78" width="6.00" height="63.42" fill="url(#dg)" stroke="none" stroke-width="1" />
<rect x="467.80" y="131.28" width="7.10" height="62.92" fill="url(#xh)" stroke="#0a0a0a" stroke-width="1.6" />
<rect x="485.25" y="151.51" width="8.20" height="42.69" fill="#b2b2b2" stroke="none" stroke-width="1" />
<line x1="489.35" y1="147.70" x2="489.35" y2="156.00" stroke="#111" stroke-width="1.6" />
<line x1="486.85" y1="147.70" x2="491.85" y2="147.70" stroke="#111" stroke-width="1.6" />
<line x1="486.85" y1="156.00" x2="491.85" y2="156.00" stroke="#111" stroke-width="1.6" />
<rect x="496.55" y="156.92" width="7.50" height="37.28" fill="#c2c2c2" stroke="none" stroke-width="1" />
<rect x="497.50" y="157.22" width="5.60" height="36.98" fill="url(#hz)" stroke="none" stroke-width="1" />
<line x1="500.30" y1="152.70" x2="500.30" y2="162.50" stroke="#111" stroke-width="1.6" />
<line x1="497.80" y1="152.70" x2="502.80" y2="152.70" stroke="#111" stroke-width="1.6" />
<line x1="497.80" y1="162.50" x2="502.80" y2="162.50" stroke="#111" stroke-width="1.6" />
<rect x="507.20" y="160.43" width="7.90" height="33.77" fill="#c2c2c2" stroke="none" stroke-width="1" />
<rect x="508.15" y="160.73" width="6.00" height="33.47" fill="url(#dg)" stroke="none" stroke-width="1" />
<line x1="511.15" y1="159.60" x2="511.15" y2="161.20" stroke="#111" stroke-width="1.6" />
<line x1="509.55" y1="159.60" x2="512.75" y2="159.60" stroke="#111" stroke-width="1.6" />
<line x1="509.55" y1="161.20" x2="512.75" y2="161.20" stroke="#111" stroke-width="1.6" />
<rect x="518.40" y="151.03" width="7.10" height="43.17" fill="url(#xh)" stroke="#0a0a0a" stroke-width="1.6" />
<line x1="521.95" y1="144.60" x2="521.95" y2="156.60" stroke="#111" stroke-width="1.6" />
<line x1="519.45" y1="144.60" x2="524.45" y2="144.60" stroke="#111" stroke-width="1.6" />
<line x1="519.45" y1="156.60" x2="524.45" y2="156.60" stroke="#111" stroke-width="1.6" />
<rect x="535.85" y="164.89" width="8.20" height="29.31" fill="#b2b2b2" stroke="none" stroke-width="1" />
<line x1="539.95" y1="161.50" x2="539.95" y2="169.10" stroke="#111" stroke-width="1.6" />
<line x1="537.45" y1="161.50" x2="542.45" y2="161.50" stroke="#111" stroke-width="1.6" />
<line x1="537.45" y1="169.10" x2="542.45" y2="169.10" stroke="#111" stroke-width="1.6" />
<rect x="547.15" y="170.62" width="7.50" height="23.58" fill="#c2c2c2" stroke="none" stroke-width="1" />
<rect x="548.10" y="170.92" width="5.60" height="23.28" fill="url(#hz)" stroke="none" stroke-width="1" />
<line x1="550.90" y1="165.40" x2="550.90" y2="175.70" stroke="#111" stroke-width="1.6" />
<line x1="548.40" y1="165.40" x2="553.40" y2="165.40" stroke="#111" stroke-width="1.6" />
<line x1="548.40" y1="175.70" x2="553.40" y2="175.70" stroke="#111" stroke-width="1.6" />
<rect x="557.80" y="172.54" width="7.90" height="21.66" fill="#c2c2c2" stroke="none" stroke-width="1" />
<rect x="558.75" y="172.84" width="6.00" height="21.36" fill="url(#dg)" stroke="none" stroke-width="1" />
<line x1="561.75" y1="167.60" x2="561.75" y2="176.80" stroke="#111" stroke-width="1.6" />
<line x1="559.25" y1="167.60" x2="564.25" y2="167.60" stroke="#111" stroke-width="1.6" />
<line x1="559.25" y1="176.80" x2="564.25" y2="176.80" stroke="#111" stroke-width="1.6" />
<rect x="569.00" y="67.56" width="7.10" height="126.64" fill="url(#xh)" stroke="#0a0a0a" stroke-width="1.6" />
<line x1="572.55" y1="43.80" x2="572.55" y2="89.80" stroke="#111" stroke-width="1.6" />
<line x1="570.05" y1="43.80" x2="575.05" y2="43.80" stroke="#111" stroke-width="1.6" />
<line x1="570.05" y1="89.80" x2="575.05" y2="89.80" stroke="#111" stroke-width="1.6" />
<rect x="586.45" y="155.33" width="8.20" height="38.87" fill="#b2b2b2" stroke="none" stroke-width="1" />
<line x1="590.55" y1="151.00" x2="590.55" y2="160.00" stroke="#111" stroke-width="1.6" />
<line x1="588.05" y1="151.00" x2="593.05" y2="151.00" stroke="#111" stroke-width="1.6" />
<line x1="588.05" y1="160.00" x2="593.05" y2="160.00" stroke="#111" stroke-width="1.6" />
<rect x="597.75" y="147.37" width="7.50" height="46.83" fill="#c2c2c2" stroke="none" stroke-width="1" />
<rect x="598.70" y="147.67" width="5.60" height="46.53" fill="url(#hz)" stroke="none" stroke-width="1" />
<line x1="601.50" y1="137.40" x2="601.50" y2="157.00" stroke="#111" stroke-width="1.6" />
<line x1="599.00" y1="137.40" x2="604.00" y2="137.40" stroke="#111" stroke-width="1.6" />
<line x1="599.00" y1="157.00" x2="604.00" y2="157.00" stroke="#111" stroke-width="1.6" />
<rect x="608.40" y="158.20" width="7.90" height="36.00" fill="#c2c2c2" stroke="none" stroke-width="1" />
<rect x="609.35" y="158.50" width="6.00" height="35.70" fill="url(#dg)" stroke="none" stroke-width="1" />
<line x1="612.35" y1="146.80" x2="612.35" y2="169.60" stroke="#111" stroke-width="1.6" />
<line x1="609.85" y1="146.80" x2="614.85" y2="146.80" stroke="#111" stroke-width="1.6" />
<line x1="609.85" y1="169.60" x2="614.85" y2="169.60" stroke="#111" stroke-width="1.6" />
<rect x="619.60" y="127.46" width="7.10" height="66.74" fill="url(#xh)" stroke="#0a0a0a" stroke-width="1.6" />
<line x1="623.15" y1="118.30" x2="623.15" y2="134.00" stroke="#111" stroke-width="1.6" />
<line x1="620.65" y1="118.30" x2="625.65" y2="118.30" stroke="#111" stroke-width="1.6" />
<line x1="620.65" y1="134.00" x2="625.65" y2="134.00" stroke="#111" stroke-width="1.6" />
<line x1="432.20" y1="130.48" x2="636.00" y2="130.48" stroke="#707070" stroke-width="1.4" stroke-dasharray="2.9 2.7"/>
<line x1="430.70" y1="34.20" x2="430.70" y2="195.00" stroke="#0a0a0a" stroke-width="1.6" />
<line x1="429.90" y1="194.20" x2="632.00" y2="194.20" stroke="#0a0a0a" stroke-width="1.6" />
<line x1="425.50" y1="194.20" x2="430.70" y2="194.20" stroke="#0a0a0a" stroke-width="1.4" />
<text transform="translate(425.10 197.70) scale(0.92 1)" font-size="9.5" text-anchor="end" font-weight="normal" fill="#1a1a1a" stroke="#1a1a1a" stroke-width="0.2" >0.0</text>
<line x1="425.50" y1="162.34" x2="430.70" y2="162.34" stroke="#0a0a0a" stroke-width="1.4" />
<text transform="translate(425.10 165.84) scale(0.92 1)" font-size="9.5" text-anchor="end" font-weight="normal" fill="#1a1a1a" stroke="#1a1a1a" stroke-width="0.2" >0.5</text>
<line x1="425.50" y1="130.48" x2="430.70" y2="130.48" stroke="#0a0a0a" stroke-width="1.4" />
<text transform="translate(425.10 133.98) scale(0.92 1)" font-size="9.5" text-anchor="end" font-weight="normal" fill="#1a1a1a" stroke="#1a1a1a" stroke-width="0.2" >1.0</text>
<line x1="425.50" y1="98.62" x2="430.70" y2="98.62" stroke="#0a0a0a" stroke-width="1.4" />
<text transform="translate(425.10 102.12) scale(0.92 1)" font-size="9.5" text-anchor="end" font-weight="normal" fill="#1a1a1a" stroke="#1a1a1a" stroke-width="0.2" >1.5</text>
<line x1="425.50" y1="66.76" x2="430.70" y2="66.76" stroke="#0a0a0a" stroke-width="1.4" />
<text transform="translate(425.10 70.26) scale(0.92 1)" font-size="9.5" text-anchor="end" font-weight="normal" fill="#1a1a1a" stroke="#1a1a1a" stroke-width="0.2" >2.0</text>
<line x1="425.50" y1="34.90" x2="430.70" y2="34.90" stroke="#0a0a0a" stroke-width="1.4" />
<text transform="translate(425.10 38.40) scale(0.92 1)" font-size="9.5" text-anchor="end" font-weight="normal" fill="#1a1a1a" stroke="#1a1a1a" stroke-width="0.2" >2.5</text>
<line x1="455.00" y1="194.20" x2="455.00" y2="198.80" stroke="#0a0a0a" stroke-width="1.5" />
<line x1="505.60" y1="194.20" x2="505.60" y2="198.80" stroke="#0a0a0a" stroke-width="1.5" />
<line x1="556.20" y1="194.20" x2="556.20" y2="198.80" stroke="#0a0a0a" stroke-width="1.5" />
<line x1="606.80" y1="194.20" x2="606.80" y2="198.80" stroke="#0a0a0a" stroke-width="1.5" />
<text transform="translate(455.0 207.2) rotate(-45) scale(0.95 1)" font-size="10" font-weight="bold" text-anchor="end" fill="#111" stroke="#111" stroke-width="0.2">Neg</text>
<text transform="translate(508.6 204.3) rotate(-45) scale(0.95 1)" font-size="10" font-weight="bold" text-anchor="end" fill="#111" stroke="#111" stroke-width="0.2">miR-K6-5</text>
<text transform="translate(558.6 205.0) rotate(-45) scale(0.95 1)" font-size="10" font-weight="bold" text-anchor="end" fill="#111" stroke="#111" stroke-width="0.2">miR-K8</text>
<text transform="translate(609.6 204.3) rotate(-45) scale(0.95 1)" font-size="10" font-weight="bold" text-anchor="end" fill="#111" stroke="#111" stroke-width="0.2">miR-K9<tspan font-size="7.5" dy="-1.5">*</tspan></text>
<path d="M439.1 38.3V32.8H593.0V38.3" fill="none" stroke="#0a0a0a" stroke-width="1.4"/>
<text x="511.30" y="32.60" font-size="5.6" text-anchor="middle" font-weight="normal" fill="#333" stroke="#333" stroke-width="0.3" >**</text>
<path d="M461.6 44.4V39.0H610.5V44.4" fill="none" stroke="#0a0a0a" stroke-width="1.4"/>
<text x="531.70" y="38.80" font-size="5.6" text-anchor="middle" font-weight="normal" fill="#333" stroke="#333" stroke-width="0.3" >**</text>
<path d="M439.1 85.4V80.6H542.2V85.4" fill="none" stroke="#0a0a0a" stroke-width="1.4"/>
<text x="491.20" y="80.40" font-size="5.6" text-anchor="middle" font-weight="normal" fill="#333" stroke="#333" stroke-width="0.3" >***</text>
<path d="M450.0 91.5V86.5H554.3V91.5" fill="none" stroke="#0a0a0a" stroke-width="1.4"/>
<text x="501.00" y="86.30" font-size="5.6" text-anchor="middle" font-weight="normal" fill="#333" stroke="#333" stroke-width="0.3" >***</text>
<path d="M460.5 97.4V92.4H560.8V97.4" fill="none" stroke="#0a0a0a" stroke-width="1.4"/>
<text x="511.30" y="92.20" font-size="5.6" text-anchor="middle" font-weight="normal" fill="#333" stroke="#333" stroke-width="0.3" >***</text>
<path d="M439.1 109.6V104.6H488.6V109.6" fill="none" stroke="#0a0a0a" stroke-width="1.4"/>
<text x="465.60" y="104.40" font-size="5.6" text-anchor="middle" font-weight="normal" fill="#333" stroke="#333" stroke-width="0.3" >*</text>
<path d="M450.0 115.8V110.5H499.6V115.8" fill="none" stroke="#0a0a0a" stroke-width="1.4"/>
<text x="472.60" y="110.30" font-size="5.6" text-anchor="middle" font-weight="normal" fill="#333" stroke="#333" stroke-width="0.3" >**</text>
<path d="M460.5 121.7V116.9H510.6V121.7" fill="none" stroke="#0a0a0a" stroke-width="1.4"/>
<text x="482.40" y="116.70" font-size="5.6" text-anchor="middle" font-weight="normal" fill="#333" stroke="#333" stroke-width="0.3" >***</text>
<path d="M471.3 128.6V124.0H521.6V128.6" fill="none" stroke="#0a0a0a" stroke-width="1.4"/>
<text x="492.70" y="123.80" font-size="5.6" text-anchor="middle" font-weight="normal" fill="#333" stroke="#333" stroke-width="0.3" >*</text>
<rect x="386.60" y="294.60" width="14.20" height="8.00" fill="#b2b2b2" stroke="none" stroke-width="1" />
<text x="408.00" y="301.80" font-size="10.25" text-anchor="start" font-weight="normal" fill="#1a1a1a" stroke="#1a1a1a" stroke-width="0.2" >pY705-STAT3</text>
<rect x="481.20" y="295.10" width="13.50" height="7.00" fill="#fdfdfd" stroke="#bcbcbc" stroke-width="1" />
<line x1="481.90" y1="296.10" x2="494.00" y2="296.10" stroke="#b0b0b0" stroke-width="0.9" />
<line x1="481.90" y1="297.90" x2="494.00" y2="297.90" stroke="#6a6a6a" stroke-width="0.9" />
<line x1="481.90" y1="300.30" x2="494.00" y2="300.30" stroke="#6a6a6a" stroke-width="0.9" />
<text x="502.60" y="301.80" font-size="10.25" text-anchor="start" font-weight="normal" fill="#1a1a1a" stroke="#1a1a1a" stroke-width="0.2" >pS727-STAT3</text>
<rect x="572.70" y="295.10" width="13.70" height="7.00" fill="#d9d9d9" stroke="#bcbcbc" stroke-width="1" />
<rect x="573.80" y="295.80" width="11.50" height="5.60" fill="url(#dg)" stroke="none" stroke-width="1" />
<text x="594.00" y="301.80" font-size="10.25" text-anchor="start" font-weight="normal" fill="#1a1a1a" stroke="#1a1a1a" stroke-width="0.2" >STAT3</text>
<rect x="630.40" y="295.20" width="13.20" height="6.80" fill="url(#ckl)" stroke="#0a0a0a" stroke-width="1.2" />
<text x="651.70" y="301.80" font-size="10.25" text-anchor="start" font-weight="normal" fill="#1a1a1a" stroke="#1a1a1a" stroke-width="0.2" textLength="27.6" lengthAdjust="spacingAndGlyphs">IRAK1</text>
<text transform="translate(397.2 396.5) rotate(-90) scale(1.084 1)" font-size="8.1" text-anchor="middle" fill="#1a1a1a" stroke="#1a1a1a" stroke-width="0.2" xml:space="preserve" style="white-space:pre">Fold change in  protein levels</text>
<text transform="translate(407.2 396.7) rotate(-90) scale(1.084 1)" font-size="8.1" text-anchor="middle" fill="#1a1a1a" stroke="#1a1a1a" stroke-width="0.2" xml:space="preserve" style="white-space:pre">relative to Neg+IL6</text>
<line x1="432.00" y1="370.60" x2="640.00" y2="370.60" stroke="#1a1a1a" stroke-width="1.0" stroke-dasharray="3.2 2.6"/>
<rect x="435.70" y="370.60" width="8.20" height="107.60" fill="#b2b2b2" stroke="none" stroke-width="1" />
<rect x="447.05" y="370.60" width="7.50" height="107.60" fill="#c2c2c2" stroke="none" stroke-width="1" />
<rect x="448.00" y="370.90" width="5.60" height="107.30" fill="url(#hz)" stroke="none" stroke-width="1" />
<rect x="457.95" y="370.60" width="7.90" height="107.60" fill="#c2c2c2" stroke="none" stroke-width="1" />
<rect x="458.90" y="370.90" width="6.00" height="107.30" fill="url(#dg)" stroke="none" stroke-width="1" />
<rect x="469.65" y="371.40" width="7.00" height="106.80" fill="url(#ck)" stroke="#0a0a0a" stroke-width="1.6" />
<rect x="487.00" y="441.08" width="8.20" height="37.12" fill="#b2b2b2" stroke="none" stroke-width="1" />
<line x1="491.10" y1="438.80" x2="491.10" y2="443.80" stroke="#111" stroke-width="1.5" />
<line x1="488.60" y1="438.80" x2="493.60" y2="438.80" stroke="#111" stroke-width="1.5" />
<line x1="488.60" y1="443.80" x2="493.60" y2="443.80" stroke="#111" stroke-width="1.5" />
<rect x="498.35" y="414.18" width="7.50" height="64.02" fill="#c2c2c2" stroke="none" stroke-width="1" />
<rect x="499.30" y="414.48" width="5.60" height="63.72" fill="url(#hz)" stroke="none" stroke-width="1" />
<line x1="502.10" y1="404.40" x2="502.10" y2="424.10" stroke="#111" stroke-width="1.5" />
<line x1="499.60" y1="404.40" x2="504.60" y2="404.40" stroke="#111" stroke-width="1.5" />
<line x1="499.60" y1="424.10" x2="504.60" y2="424.10" stroke="#111" stroke-width="1.5" />
<rect x="509.25" y="386.74" width="7.90" height="91.46" fill="#c2c2c2" stroke="none" stroke-width="1" />
<rect x="510.20" y="387.04" width="6.00" height="91.16" fill="url(#dg)" stroke="none" stroke-width="1" />
<line x1="513.20" y1="377.90" x2="513.20" y2="397.10" stroke="#111" stroke-width="1.5" />
<line x1="510.70" y1="377.90" x2="515.70" y2="377.90" stroke="#111" stroke-width="1.5" />
<line x1="510.70" y1="397.10" x2="515.70" y2="397.10" stroke="#111" stroke-width="1.5" />
<rect x="520.95" y="413.36" width="7.00" height="64.84" fill="url(#ck)" stroke="#0a0a0a" stroke-width="1.6" />
<line x1="524.45" y1="405.00" x2="524.45" y2="420.00" stroke="#111" stroke-width="1.5" />
<line x1="521.95" y1="405.00" x2="526.95" y2="405.00" stroke="#111" stroke-width="1.5" />
<line x1="521.95" y1="420.00" x2="526.95" y2="420.00" stroke="#111" stroke-width="1.5" />
<rect x="538.30" y="370.60" width="8.20" height="107.60" fill="#b2b2b2" stroke="none" stroke-width="1" />
<rect x="549.65" y="370.60" width="7.50" height="107.60" fill="#c2c2c2" stroke="none" stroke-width="1" />
<rect x="550.60" y="370.90" width="5.60" height="107.30" fill="url(#hz)" stroke="none" stroke-width="1" />
<rect x="560.55" y="370.60" width="7.90" height="107.60" fill="#c2c2c2" stroke="none" stroke-width="1" />
<rect x="561.50" y="370.90" width="6.00" height="107.30" fill="url(#dg)" stroke="none" stroke-width="1" />
<rect x="572.25" y="371.40" width="7.00" height="106.80" fill="url(#ck)" stroke="#0a0a0a" stroke-width="1.6" />
<rect x="589.60" y="357.15" width="8.20" height="121.05" fill="#b2b2b2" stroke="none" stroke-width="1" />
<line x1="593.70" y1="323.10" x2="593.70" y2="392.30" stroke="#111" stroke-width="1.5" />
<line x1="591.20" y1="323.10" x2="596.20" y2="323.10" stroke="#111" stroke-width="1.5" />
<line x1="591.20" y1="392.30" x2="596.20" y2="392.30" stroke="#111" stroke-width="1.5" />
<rect x="600.95" y="374.37" width="7.50" height="103.83" fill="#c2c2c2" stroke="none" stroke-width="1" />
<rect x="601.90" y="374.67" width="5.60" height="103.53" fill="url(#hz)" stroke="none" stroke-width="1" />
<line x1="604.70" y1="365.40" x2="604.70" y2="384.00" stroke="#111" stroke-width="1.5" />
<line x1="602.20" y1="365.40" x2="607.20" y2="365.40" stroke="#111" stroke-width="1.5" />
<line x1="602.20" y1="384.00" x2="607.20" y2="384.00" stroke="#111" stroke-width="1.5" />
<rect x="611.85" y="387.28" width="7.90" height="90.92" fill="#c2c2c2" stroke="none" stroke-width="1" />
<rect x="612.80" y="387.58" width="6.00" height="90.62" fill="url(#dg)" stroke="none" stroke-width="1" />
<line x1="615.80" y1="336.90" x2="615.80" y2="439.00" stroke="#111" stroke-width="1.5" />
<line x1="613.30" y1="336.90" x2="618.30" y2="336.90" stroke="#111" stroke-width="1.5" />
<line x1="613.30" y1="439.00" x2="618.30" y2="439.00" stroke="#111" stroke-width="1.5" />
<rect x="623.55" y="463.18" width="7.00" height="15.02" fill="url(#ck)" stroke="#0a0a0a" stroke-width="1.6" />
<line x1="431.00" y1="316.10" x2="431.00" y2="479.00" stroke="#0a0a0a" stroke-width="1.6" />
<line x1="430.20" y1="478.20" x2="636.00" y2="478.20" stroke="#0a0a0a" stroke-width="1.6" />
<line x1="425.80" y1="478.20" x2="431.00" y2="478.20" stroke="#0a0a0a" stroke-width="1.4" />
<text transform="translate(425.60 481.70) scale(0.92 1)" font-size="9.5" text-anchor="end" font-weight="normal" fill="#1a1a1a" stroke="#1a1a1a" stroke-width="0.2" >0.0</text>
<line x1="425.80" y1="424.40" x2="431.00" y2="424.40" stroke="#0a0a0a" stroke-width="1.4" />
<text transform="translate(425.60 427.90) scale(0.92 1)" font-size="9.5" text-anchor="end" font-weight="normal" fill="#1a1a1a" stroke="#1a1a1a" stroke-width="0.2" >0.5</text>
<line x1="425.80" y1="370.60" x2="431.00" y2="370.60" stroke="#0a0a0a" stroke-width="1.4" />
<text transform="translate(425.60 374.10) scale(0.92 1)" font-size="9.5" text-anchor="end" font-weight="normal" fill="#1a1a1a" stroke="#1a1a1a" stroke-width="0.2" >1.0</text>
<line x1="425.80" y1="316.80" x2="431.00" y2="316.80" stroke="#0a0a0a" stroke-width="1.4" />
<text transform="translate(425.60 320.30) scale(0.92 1)" font-size="9.5" text-anchor="end" font-weight="normal" fill="#1a1a1a" stroke="#1a1a1a" stroke-width="0.2" >1.5</text>
<line x1="456.20" y1="478.20" x2="456.20" y2="482.80" stroke="#0a0a0a" stroke-width="1.5" />
<line x1="507.50" y1="478.20" x2="507.50" y2="482.80" stroke="#0a0a0a" stroke-width="1.5" />
<line x1="558.80" y1="478.20" x2="558.80" y2="482.80" stroke="#0a0a0a" stroke-width="1.5" />
<line x1="610.10" y1="478.20" x2="610.10" y2="482.80" stroke="#0a0a0a" stroke-width="1.5" />
<text transform="translate(455.9 491.8) rotate(-45) scale(0.95 1)" font-size="10" font-weight="bold" text-anchor="end" fill="#111" stroke="#111" stroke-width="0.2">Neg</text>
<text transform="translate(510.6 489.3) rotate(-45) scale(0.95 1)" font-size="10" font-weight="bold" text-anchor="end" fill="#111" stroke="#111" stroke-width="0.2">miR-K9</text>
<text transform="translate(561.3 489.3) rotate(-45) scale(0.95 1)" font-size="10" font-weight="bold" text-anchor="end" fill="#111" stroke="#111" stroke-width="0.2">siNeg</text>
<text transform="translate(613.2 489.3) rotate(-45) scale(0.95 1)" font-size="10" font-weight="bold" text-anchor="end" fill="#111" stroke="#111" stroke-width="0.2">siIRAK1</text>
<path d="M439.3 347.2V342.8H490.5V347.2" fill="none" stroke="#0a0a0a" stroke-width="1.4"/>
<text x="467.10" y="342.60" font-size="5.6" text-anchor="middle" font-weight="normal" fill="#333" stroke="#333" stroke-width="0.3" >***</text>
<path d="M450.7 353.4V349.0H501.5V353.4" fill="none" stroke="#0a0a0a" stroke-width="1.4"/>
<text x="474.10" y="348.80" font-size="5.6" text-anchor="middle" font-weight="normal" fill="#333" stroke="#333" stroke-width="0.3" >*</text>
<path d="M461.6 359.5V355.1H512.4V359.5" fill="none" stroke="#0a0a0a" stroke-width="1.4"/>
<text x="484.20" y="354.90" font-size="5.6" text-anchor="middle" font-weight="normal" fill="#333" stroke="#333" stroke-width="0.3" >*</text>
<path d="M472.6 366.0V361.5H523.4V366.0" fill="none" stroke="#0a0a0a" stroke-width="1.4"/>
<text x="496.20" y="361.30" font-size="5.6" text-anchor="middle" font-weight="normal" fill="#333" stroke="#333" stroke-width="0.3" >**</text>
<path d="M574.9 323.4V319.0H627.6V323.4" fill="none" stroke="#0a0a0a" stroke-width="1.4"/>
<text x="602.20" y="318.80" font-size="5.6" text-anchor="middle" font-weight="normal" fill="#333" stroke="#333" stroke-width="0.3" >***</text>
<text x="2.60" y="563.40" font-size="9.7" text-anchor="start" font-weight="normal" fill="#151515" stroke="#151515" stroke-width="0.1" >C.</text>
<text transform="translate(72.9 645.3) rotate(-90) scale(1.12 1)" font-size="8.4" text-anchor="middle" fill="#1a1a1a" stroke="#1a1a1a" stroke-width="0.2" xml:space="preserve" style="white-space:pre">pY/ pY+Whole STAT3</text>
<rect x="98.40" y="620.20" width="27.70" height="100.80" fill="#999" stroke="none" stroke-width="1" />
<rect x="136.30" y="625.24" width="28.10" height="95.76" fill="#999" stroke="none" stroke-width="1" />
<rect x="174.30" y="620.20" width="28.20" height="100.80" fill="#999" stroke="none" stroke-width="1" />
<rect x="212.30" y="640.36" width="28.50" height="80.64" fill="#999" stroke="none" stroke-width="1" />
<rect x="250.40" y="664.05" width="28.40" height="56.95" fill="#999" stroke="none" stroke-width="1" />
<line x1="92.80" y1="620.20" x2="280.30" y2="620.20" stroke="#222" stroke-width="0.9" stroke-dasharray="3 2.2"/>
<line x1="150.35" y1="600.70" x2="150.35" y2="651.00" stroke="#111" stroke-width="1.6" />
<line x1="143.05" y1="600.70" x2="157.65" y2="600.70" stroke="#111" stroke-width="1.6" />
<line x1="143.05" y1="651.00" x2="157.65" y2="651.00" stroke="#111" stroke-width="1.6" />
<line x1="188.40" y1="606.60" x2="188.40" y2="635.80" stroke="#111" stroke-width="1.6" />
<line x1="181.10" y1="606.60" x2="195.70" y2="606.60" stroke="#111" stroke-width="1.6" />
<line x1="181.10" y1="635.80" x2="195.70" y2="635.80" stroke="#111" stroke-width="1.6" />
<line x1="226.55" y1="629.20" x2="226.55" y2="651.70" stroke="#111" stroke-width="1.6" />
<line x1="219.25" y1="629.20" x2="233.85" y2="629.20" stroke="#111" stroke-width="1.6" />
<line x1="219.25" y1="651.70" x2="233.85" y2="651.70" stroke="#111" stroke-width="1.6" />
<line x1="264.60" y1="661.90" x2="264.60" y2="667.20" stroke="#111" stroke-width="1.6" />
<line x1="257.30" y1="661.90" x2="271.90" y2="661.90" stroke="#111" stroke-width="1.6" />
<line x1="257.30" y1="667.20" x2="271.90" y2="667.20" stroke="#111" stroke-width="1.6" />
<line x1="92.80" y1="569.00" x2="92.80" y2="722.00" stroke="#111" stroke-width="2" />
<line x1="91.80" y1="721.00" x2="284.00" y2="721.00" stroke="#111" stroke-width="2" />
<line x1="87.80" y1="721.00" x2="92.80" y2="721.00" stroke="#111" stroke-width="1.6" />
<text transform="translate(87.70 724.20) scale(0.9 1)" font-size="9.2" text-anchor="end" font-weight="normal" fill="#1a1a1a" stroke="#1a1a1a" stroke-width="0.2" >0.0</text>
<line x1="87.80" y1="670.60" x2="92.80" y2="670.60" stroke="#111" stroke-width="1.6" />
<text transform="translate(87.70 673.80) scale(0.9 1)" font-size="9.2" text-anchor="end" font-weight="normal" fill="#1a1a1a" stroke="#1a1a1a" stroke-width="0.2" >0.5</text>
<line x1="87.80" y1="620.20" x2="92.80" y2="620.20" stroke="#111" stroke-width="1.6" />
<text transform="translate(87.70 623.40) scale(0.9 1)" font-size="9.2" text-anchor="end" font-weight="normal" fill="#1a1a1a" stroke="#1a1a1a" stroke-width="0.2" >1.0</text>
<line x1="87.80" y1="569.80" x2="92.80" y2="569.80" stroke="#111" stroke-width="1.6" />
<text transform="translate(87.70 573.00) scale(0.9 1)" font-size="9.2" text-anchor="end" font-weight="normal" fill="#1a1a1a" stroke="#1a1a1a" stroke-width="0.2" >1.5</text>
<line x1="112.25" y1="721.00" x2="112.25" y2="726.30" stroke="#111" stroke-width="1.8" />
<line x1="150.35" y1="721.00" x2="150.35" y2="726.30" stroke="#111" stroke-width="1.8" />
<line x1="188.40" y1="721.00" x2="188.40" y2="726.30" stroke="#111" stroke-width="1.8" />
<line x1="226.55" y1="721.00" x2="226.55" y2="726.30" stroke="#111" stroke-width="1.8" />
<line x1="264.60" y1="721.00" x2="264.60" y2="726.30" stroke="#111" stroke-width="1.8" />
<text transform="translate(114.5 730.4) rotate(-45) scale(0.94 1)" font-size="9" font-weight="bold" text-anchor="end" fill="#111" stroke="#111" stroke-width="0.2">Neg1</text>
<text transform="translate(152.7 730.4) rotate(-45) scale(0.94 1)" font-size="9" font-weight="bold" text-anchor="end" fill="#111" stroke="#111" stroke-width="0.2">miR-K6-5</text>
<text transform="translate(190.7 730.4) rotate(-45) scale(0.94 1)" font-size="9" font-weight="bold" text-anchor="end" fill="#111" stroke="#111" stroke-width="0.2">miR-K8</text>
<text transform="translate(228.8 730.4) rotate(-45) scale(0.94 1)" font-size="9" font-weight="bold" text-anchor="end" fill="#111" stroke="#111" stroke-width="0.2">miR-K9*</text>
<text transform="translate(266.9 730.4) rotate(-45) scale(0.94 1)" font-size="9" font-weight="bold" text-anchor="end" fill="#111" stroke="#111" stroke-width="0.2">miR-K9</text>
<path d="M111.5 592.0V581.8H265.9V592.0" fill="none" stroke="#0a0a0a" stroke-width="0.9"/>
<text x="189.30" y="575.60" font-size="10.8" text-anchor="middle" font-weight="normal" fill="#222" stroke="#222" stroke-width="0.05" >p&lt;0.0001</text>
<text x="411.80" y="563.20" font-size="9.7" text-anchor="start" font-weight="normal" fill="#151515" stroke="#151515" stroke-width="0.1" >D.</text>
<text transform="translate(427.4 649.0) rotate(-90) scale(1.125 1)" font-size="7.1" text-anchor="middle" fill="#1a1a1a" stroke="#1a1a1a" stroke-width="0.2" xml:space="preserve" style="white-space:pre">Fold reporter activation</text>
<text transform="translate(436.6 649.0) rotate(-90) scale(1.125 1)" font-size="7.1" text-anchor="middle" fill="#1a1a1a" stroke="#1a1a1a" stroke-width="0.2" xml:space="preserve" style="white-space:pre">over untreated</text>
<rect x="453.50" y="606.61" width="17.50" height="114.59" fill="#b5b5b5" stroke="none" stroke-width="1" />
<rect x="478.00" y="645.34" width="17.50" height="75.86" fill="#b5b5b5" stroke="none" stroke-width="1" />
<rect x="502.00" y="619.62" width="18.00" height="101.58" fill="#b5b5b5" stroke="none" stroke-width="1" />
<rect x="527.00" y="645.34" width="17.00" height="75.86" fill="#b5b5b5" stroke="none" stroke-width="1" />
<line x1="462.25" y1="603.50" x2="462.25" y2="609.80" stroke="#111" stroke-width="1.7" />
<line x1="457.65" y1="603.50" x2="466.85" y2="603.50" stroke="#111" stroke-width="1.7" />
<line x1="457.65" y1="609.80" x2="466.85" y2="609.80" stroke="#111" stroke-width="1.7" />
<line x1="486.75" y1="637.50" x2="486.75" y2="653.50" stroke="#111" stroke-width="1.7" />
<line x1="482.15" y1="637.50" x2="491.35" y2="637.50" stroke="#111" stroke-width="1.7" />
<line x1="482.15" y1="653.50" x2="491.35" y2="653.50" stroke="#111" stroke-width="1.7" />
<line x1="511.00" y1="610.00" x2="511.00" y2="629.50" stroke="#111" stroke-width="1.7" />
<line x1="506.40" y1="610.00" x2="515.60" y2="610.00" stroke="#111" stroke-width="1.7" />
<line x1="506.40" y1="629.50" x2="515.60" y2="629.50" stroke="#111" stroke-width="1.7" />
<line x1="535.50" y1="637.00" x2="535.50" y2="654.00" stroke="#111" stroke-width="1.7" />
<line x1="530.90" y1="637.00" x2="540.10" y2="637.00" stroke="#111" stroke-width="1.7" />
<line x1="530.90" y1="654.00" x2="540.10" y2="654.00" stroke="#111" stroke-width="1.7" />
<line x1="450.20" y1="576.10" x2="450.20" y2="721.90" stroke="#111" stroke-width="1.4" />
<line x1="449.50" y1="721.20" x2="547.30" y2="721.20" stroke="#0a0a0a" stroke-width="1.6" />
<line x1="445.70" y1="721.20" x2="450.20" y2="721.20" stroke="#111" stroke-width="1.2" />
<text transform="translate(445.20 724.40) scale(0.92 1)" font-size="9.0" text-anchor="end" font-weight="normal" fill="#1a1a1a" stroke="#1a1a1a" stroke-width="0.2" >0</text>
<line x1="445.70" y1="692.30" x2="450.20" y2="692.30" stroke="#111" stroke-width="1.2" />
<text transform="translate(445.20 695.50) scale(0.92 1)" font-size="9.0" text-anchor="end" font-weight="normal" fill="#1a1a1a" stroke="#1a1a1a" stroke-width="0.2" >2</text>
<line x1="445.70" y1="663.40" x2="450.20" y2="663.40" stroke="#111" stroke-width="1.2" />
<text transform="translate(445.20 666.60) scale(0.92 1)" font-size="9.0" text-anchor="end" font-weight="normal" fill="#1a1a1a" stroke="#1a1a1a" stroke-width="0.2" >4</text>
<line x1="445.70" y1="634.50" x2="450.20" y2="634.50" stroke="#111" stroke-width="1.2" />
<text transform="translate(445.20 637.70) scale(0.92 1)" font-size="9.0" text-anchor="end" font-weight="normal" fill="#1a1a1a" stroke="#1a1a1a" stroke-width="0.2" >6</text>
<line x1="445.70" y1="605.60" x2="450.20" y2="605.60" stroke="#111" stroke-width="1.2" />
<text transform="translate(445.20 608.80) scale(0.92 1)" font-size="9.0" text-anchor="end" font-weight="normal" fill="#1a1a1a" stroke="#1a1a1a" stroke-width="0.2" >8</text>
<line x1="445.70" y1="576.70" x2="450.20" y2="576.70" stroke="#111" stroke-width="1.2" />
<text transform="translate(445.20 579.90) scale(0.92 1)" font-size="9.0" text-anchor="end" font-weight="normal" fill="#1a1a1a" stroke="#1a1a1a" stroke-width="0.2" >10</text>
<line x1="462.25" y1="721.20" x2="462.25" y2="725.40" stroke="#0a0a0a" stroke-width="1.5" />
<line x1="486.75" y1="721.20" x2="486.75" y2="725.40" stroke="#0a0a0a" stroke-width="1.5" />
<line x1="511.00" y1="721.20" x2="511.00" y2="725.40" stroke="#0a0a0a" stroke-width="1.5" />
<line x1="535.50" y1="721.20" x2="535.50" y2="725.40" stroke="#0a0a0a" stroke-width="1.5" />
<text transform="translate(461.8 734.0) rotate(-45) scale(0.93 1)" font-size="9.4" font-weight="bold" text-anchor="end" fill="#111" stroke="#111" stroke-width="0.2">Neg</text>
<text transform="translate(489.9 731.2) rotate(-45) scale(0.93 1)" font-size="9.4" font-weight="bold" text-anchor="end" fill="#111" stroke="#111" stroke-width="0.2">miR-K6-5</text>
<text transform="translate(514.2 731.2) rotate(-45) scale(0.93 1)" font-size="9.4" font-weight="bold" text-anchor="end" fill="#111" stroke="#111" stroke-width="0.2">miR-K8</text>
<text transform="translate(538.7 731.2) rotate(-45) scale(0.93 1)" font-size="9.4" font-weight="bold" text-anchor="end" fill="#111" stroke="#111" stroke-width="0.2">miR-K9<tspan font-size="7" dy="-1.2">*</tspan></text>
<path d="M462.2 586.6V581.1H535.1V586.6" fill="none" stroke="#0a0a0a" stroke-width="1.6"/>
<text x="500.00" y="581.30" font-size="8.5" text-anchor="middle" font-weight="normal" fill="#333" stroke="#333" stroke-width="0.3" >*</text>
<path d="M462.2 597.9V594.9H487.3V597.9" fill="none" stroke="#0a0a0a" stroke-width="1.6"/>
<text x="475.30" y="595.00" font-size="8.5" text-anchor="middle" font-weight="normal" fill="#333" stroke="#333" stroke-width="0.3" >*</text>
<text transform="translate(564.3 649.0) rotate(-90) scale(1.125 1)" font-size="7.1" text-anchor="middle" fill="#1a1a1a" stroke="#1a1a1a" stroke-width="0.2" xml:space="preserve" style="white-space:pre">Fold reporter activation</text>
<text transform="translate(573.5 649.0) rotate(-90) scale(1.125 1)" font-size="7.1" text-anchor="middle" fill="#1a1a1a" stroke="#1a1a1a" stroke-width="0.2" xml:space="preserve" style="white-space:pre">over untreated</text>
<rect x="591.00" y="600.45" width="22.50" height="120.75" fill="#b5b5b5" stroke="none" stroke-width="1" />
<rect x="622.90" y="658.89" width="23.00" height="62.31" fill="#b5b5b5" stroke="none" stroke-width="1" />
<line x1="602.25" y1="581.00" x2="602.25" y2="620.50" stroke="#111" stroke-width="1.5" />
<line x1="596.55" y1="581.00" x2="607.95" y2="581.00" stroke="#111" stroke-width="1.5" />
<line x1="596.55" y1="620.50" x2="607.95" y2="620.50" stroke="#111" stroke-width="1.5" />
<line x1="634.40" y1="653.00" x2="634.40" y2="665.50" stroke="#111" stroke-width="1.5" />
<line x1="628.70" y1="653.00" x2="640.10" y2="653.00" stroke="#111" stroke-width="1.5" />
<line x1="628.70" y1="665.50" x2="640.10" y2="665.50" stroke="#111" stroke-width="1.5" />
<line x1="586.30" y1="575.70" x2="586.30" y2="721.90" stroke="#111" stroke-width="1.4" />
<line x1="585.60" y1="721.20" x2="650.50" y2="721.20" stroke="#0a0a0a" stroke-width="1.6" />
<line x1="581.80" y1="721.20" x2="586.30" y2="721.20" stroke="#111" stroke-width="1.2" />
<text transform="translate(581.30 724.40) scale(0.92 1)" font-size="9.0" text-anchor="end" font-weight="normal" fill="#1a1a1a" stroke="#1a1a1a" stroke-width="0.2" >0</text>
<line x1="581.80" y1="672.90" x2="586.30" y2="672.90" stroke="#111" stroke-width="1.2" />
<text transform="translate(581.30 676.10) scale(0.92 1)" font-size="9.0" text-anchor="end" font-weight="normal" fill="#1a1a1a" stroke="#1a1a1a" stroke-width="0.2" >2</text>
<line x1="581.80" y1="624.60" x2="586.30" y2="624.60" stroke="#111" stroke-width="1.2" />
<text transform="translate(581.30 627.80) scale(0.92 1)" font-size="9.0" text-anchor="end" font-weight="normal" fill="#1a1a1a" stroke="#1a1a1a" stroke-width="0.2" >4</text>
<line x1="581.80" y1="576.30" x2="586.30" y2="576.30" stroke="#111" stroke-width="1.2" />
<text transform="translate(581.30 579.50) scale(0.92 1)" font-size="9.0" text-anchor="end" font-weight="normal" fill="#1a1a1a" stroke="#1a1a1a" stroke-width="0.2" >6</text>
<line x1="602.25" y1="721.20" x2="602.25" y2="725.40" stroke="#0a0a0a" stroke-width="1.5" />
<line x1="634.40" y1="721.20" x2="634.40" y2="725.40" stroke="#0a0a0a" stroke-width="1.5" />
<text transform="translate(605.5 731.2) rotate(-45) scale(0.93 1)" font-size="9.4" font-weight="bold" text-anchor="end" fill="#111" stroke="#111" stroke-width="0.2">siNeg</text>
<text transform="translate(637.6 731.2) rotate(-45) scale(0.93 1)" font-size="9.4" font-weight="bold" text-anchor="end" fill="#111" stroke="#111" stroke-width="0.2">siSTAT3</text>
<path d="M602.0 577.8V572.4H634.5V577.8" fill="none" stroke="#0a0a0a" stroke-width="1.5"/>
<text x="618.50" y="571.60" font-size="5" text-anchor="middle" font-weight="normal" fill="#333" stroke="#333" stroke-width="0.3" >*</text>
</svg></body></html>
